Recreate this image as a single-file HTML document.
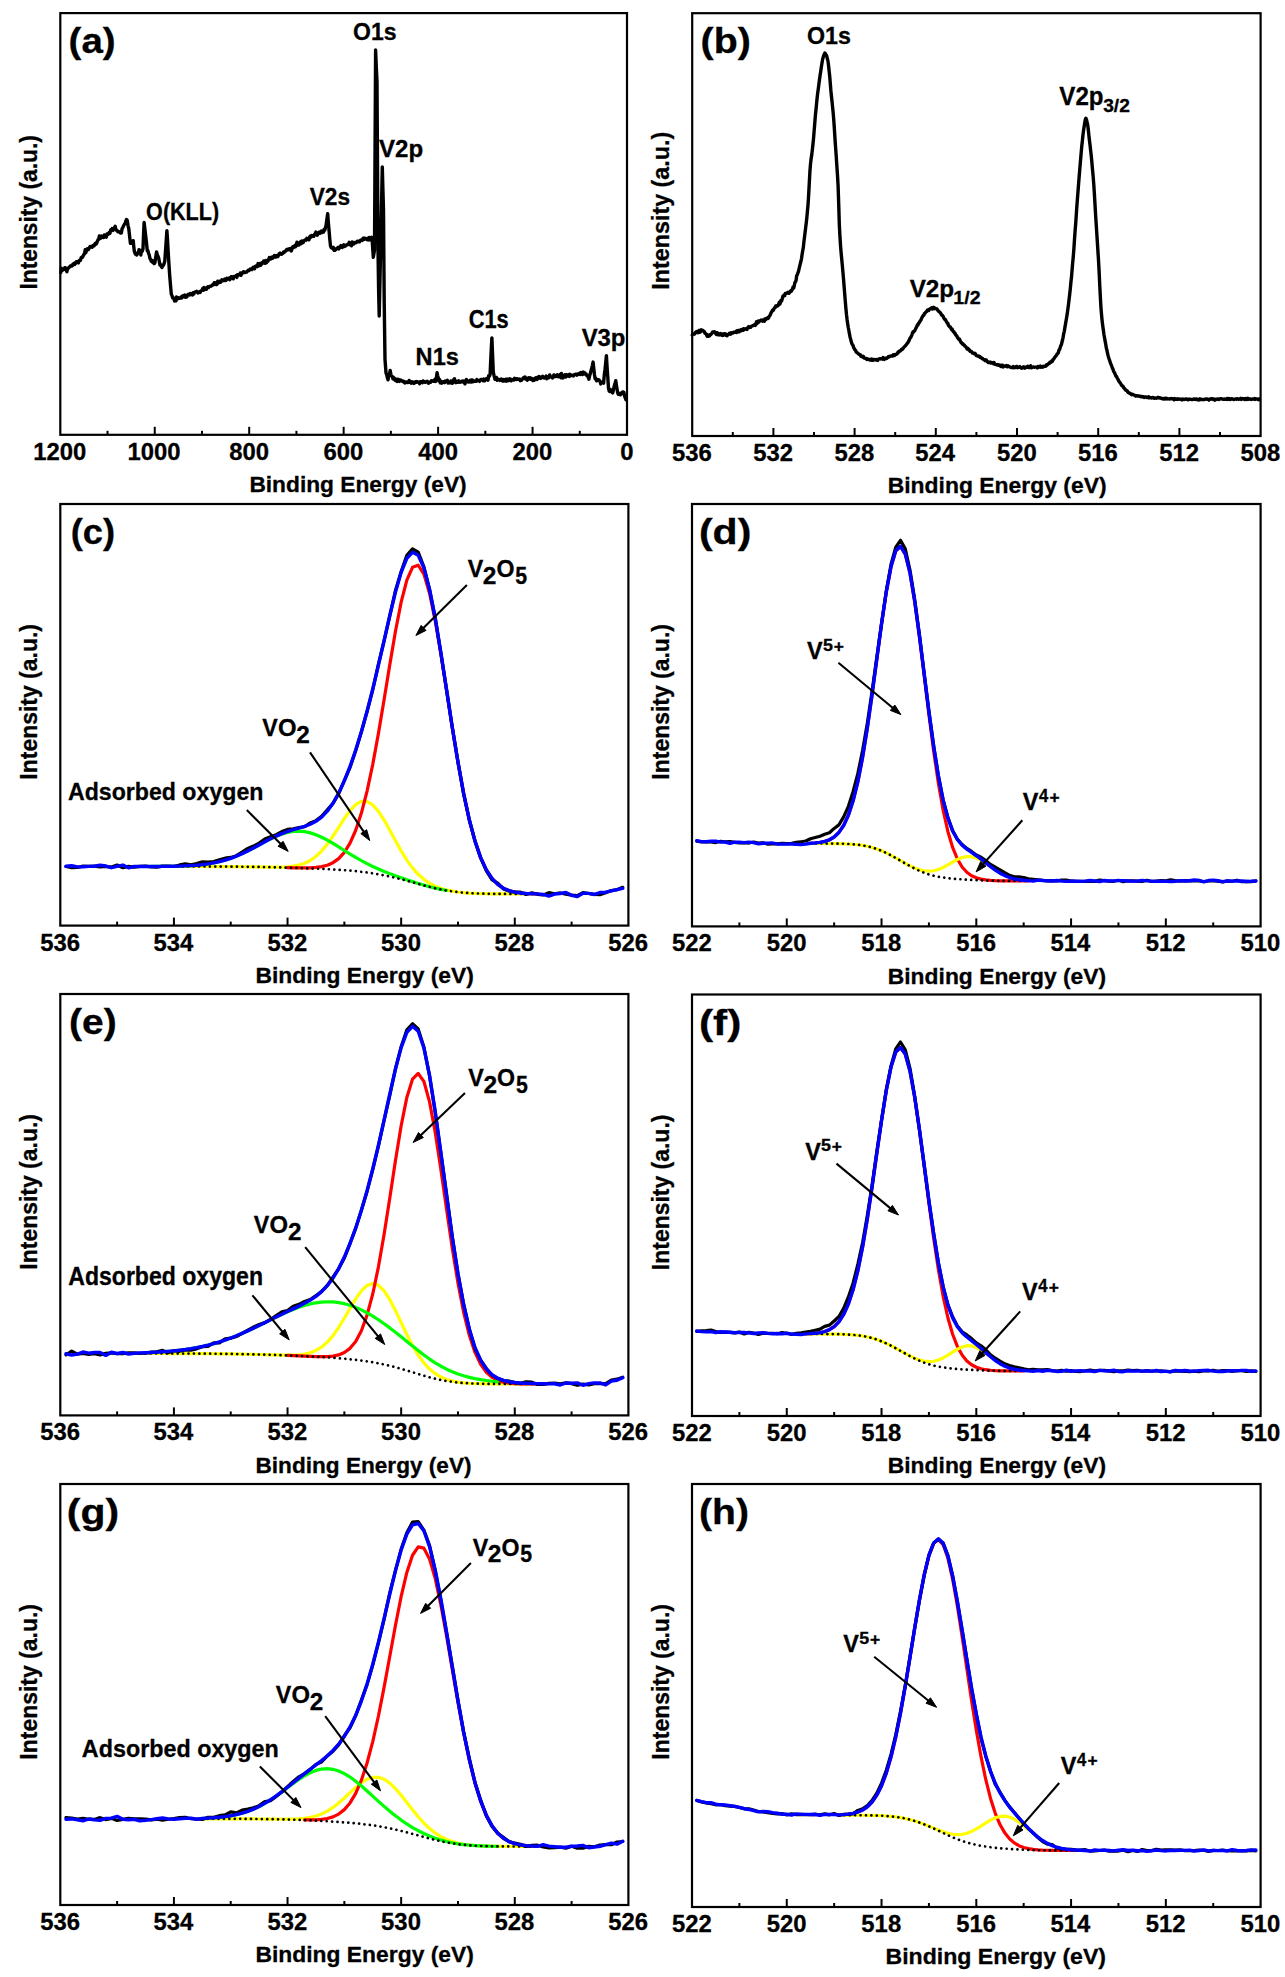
<!DOCTYPE html>
<html><head><meta charset="utf-8"><style>
html,body{margin:0;padding:0;background:#fff;overflow:hidden;}
svg{display:block;}
text{font-kerning:none;}
</style></head><body>
<svg width="1285" height="1977" viewBox="0 0 1285 1977">
<rect width="1285" height="1977" fill="#fff"/>
<rect x="60.3" y="13.1" width="566.70" height="421.70" fill="none" stroke="#000" stroke-width="2.2"/>
<line x1="107.53" y1="434.80" x2="107.53" y2="430.80" stroke="#000" stroke-width="2"/>
<line x1="154.75" y1="434.80" x2="154.75" y2="426.80" stroke="#000" stroke-width="2"/>
<line x1="201.98" y1="434.80" x2="201.98" y2="430.80" stroke="#000" stroke-width="2"/>
<line x1="249.20" y1="434.80" x2="249.20" y2="426.80" stroke="#000" stroke-width="2"/>
<line x1="296.43" y1="434.80" x2="296.43" y2="430.80" stroke="#000" stroke-width="2"/>
<line x1="343.65" y1="434.80" x2="343.65" y2="426.80" stroke="#000" stroke-width="2"/>
<line x1="390.88" y1="434.80" x2="390.88" y2="430.80" stroke="#000" stroke-width="2"/>
<line x1="438.10" y1="434.80" x2="438.10" y2="426.80" stroke="#000" stroke-width="2"/>
<line x1="485.33" y1="434.80" x2="485.33" y2="430.80" stroke="#000" stroke-width="2"/>
<line x1="532.55" y1="434.80" x2="532.55" y2="426.80" stroke="#000" stroke-width="2"/>
<line x1="579.77" y1="434.80" x2="579.77" y2="430.80" stroke="#000" stroke-width="2"/>
<text transform="translate(33.14,459.80) scale(1.0000,1)" font-size="23.85" font-family="Liberation Sans, sans-serif" font-weight="bold" stroke="#000" stroke-width="0.3" fill="#000">1200</text>
<text transform="translate(127.59,459.80) scale(1.0000,1)" font-size="23.85" font-family="Liberation Sans, sans-serif" font-weight="bold" stroke="#000" stroke-width="0.3" fill="#000">1000</text>
<text transform="translate(229.13,459.80) scale(1.0000,1)" font-size="23.85" font-family="Liberation Sans, sans-serif" font-weight="bold" stroke="#000" stroke-width="0.3" fill="#000">800</text>
<text transform="translate(323.53,459.80) scale(1.0000,1)" font-size="23.85" font-family="Liberation Sans, sans-serif" font-weight="bold" stroke="#000" stroke-width="0.3" fill="#000">600</text>
<text transform="translate(418.23,459.80) scale(1.0000,1)" font-size="23.85" font-family="Liberation Sans, sans-serif" font-weight="bold" stroke="#000" stroke-width="0.3" fill="#000">400</text>
<text transform="translate(512.45,459.80) scale(1.0000,1)" font-size="23.85" font-family="Liberation Sans, sans-serif" font-weight="bold" stroke="#000" stroke-width="0.3" fill="#000">200</text>
<text transform="translate(620.30,459.80) scale(1.0000,1)" font-size="23.85" font-family="Liberation Sans, sans-serif" font-weight="bold" stroke="#000" stroke-width="0.3" fill="#000">0</text>
<text transform="translate(249.38,492.00) scale(1.0101,1)" font-size="22.53" font-family="Liberation Sans, sans-serif" font-weight="bold" stroke="#000" stroke-width="0.3" fill="#000">Binding Energy (eV)</text>
<text transform="translate(36.70,289.52) rotate(-90) scale(0.9277,1)" font-size="24.56" font-family="Liberation Sans, sans-serif" font-weight="bold" stroke="#000" stroke-width="0.3">Intensity (a.u.)</text>
<text transform="translate(68.58,53.35) scale(1.0870,1)" font-size="35.40" font-family="Liberation Sans, sans-serif" font-weight="bold" stroke="#000" stroke-width="0.3" fill="#000">(a)</text>
<path d="M60.70,272.64 L61.38,268.27 L62.07,270.73 L62.75,269.61 L63.43,269.49 L64.12,269.48 L64.80,267.63 L65.48,269.02 L66.17,268.22 L66.85,271.77 L67.53,268.75 L68.22,268.01 L68.90,267.85 L69.58,266.89 L70.25,265.93 L70.92,265.91 L71.60,266.08 L72.28,264.82 L72.95,265.29 L73.62,263.63 L74.30,263.22 L74.99,264.25 L75.67,263.02 L76.36,261.73 L77.05,261.69 L77.74,262.00 L78.42,262.92 L79.11,260.59 L79.80,260.28 L80.47,260.38 L81.15,257.65 L81.83,257.16 L82.50,257.19 L83.17,255.90 L83.85,254.43 L84.53,253.93 L85.20,249.75 L85.89,252.53 L86.58,250.06 L87.26,248.74 L87.95,249.80 L88.64,249.49 L89.33,247.77 L90.01,246.52 L90.70,246.82 L91.38,246.35 L92.05,247.27 L92.72,246.27 L93.40,245.37 L94.08,245.80 L94.75,244.22 L95.42,243.17 L96.10,244.13 L96.76,243.02 L97.42,241.21 L98.08,239.60 L98.74,239.41 L99.40,235.86 L100.09,238.52 L100.78,238.14 L101.47,236.03 L102.16,237.36 L102.85,236.23 L103.55,237.58 L104.24,234.87 L104.93,235.68 L105.62,236.94 L106.31,237.14 L107.00,233.96 L107.73,234.47 L108.47,234.23 L109.20,232.40 L109.93,233.40 L110.67,229.91 L111.40,230.32 L112.16,228.62 L112.92,230.39 L113.68,228.66 L114.44,227.90 L115.20,226.25 L115.88,230.06 L116.55,229.98 L117.22,230.73 L117.90,231.82 L118.58,231.86 L119.25,231.72 L119.92,232.33 L120.60,233.08 L121.36,233.07 L122.12,228.57 L122.88,227.38 L123.64,225.67 L124.40,224.20 L125.10,223.57 L125.80,220.98 L126.50,219.59 L127.20,220.20 L128.00,225.34 L128.80,228.98 L129.60,236.14 L130.40,243.31 L131.10,243.31 L131.80,242.28 L132.50,242.69 L133.20,240.68 L133.75,246.42 L134.30,251.10 L135.30,253.89 L136.03,253.24 L136.77,254.96 L137.50,253.65 L138.23,253.28 L138.97,249.73 L139.70,250.89 L140.25,252.30 L140.80,254.98 L141.53,250.25 L142.27,251.16 L143.00,248.86 L143.55,234.48 L144.10,222.52 L144.90,228.93 L145.70,235.94 L146.50,243.03 L147.30,250.84 L147.96,250.78 L148.62,253.61 L149.28,255.02 L149.94,258.42 L150.60,259.47 L151.33,261.30 L152.07,260.36 L152.80,262.43 L153.50,261.70 L154.20,263.62 L154.90,262.69 L155.75,256.93 L156.60,251.89 L157.28,254.91 L157.95,256.02 L158.62,257.99 L159.30,261.43 L159.98,265.12 L160.65,264.58 L161.32,266.20 L162.00,267.55 L162.70,265.50 L163.40,265.27 L164.10,263.67 L164.80,261.01 L165.50,251.13 L166.20,240.77 L166.90,230.62 L167.45,238.38 L168.00,248.59 L168.85,262.75 L169.70,275.60 L170.50,285.12 L171.30,294.06 L171.96,295.58 L172.62,297.73 L173.28,297.67 L173.94,298.98 L174.60,300.93 L175.24,300.34 L175.88,300.85 L176.52,297.00 L177.16,299.21 L177.80,297.57 L178.49,297.86 L179.18,298.23 L179.86,298.19 L180.55,297.89 L181.24,296.83 L181.93,297.87 L182.61,295.91 L183.30,295.77 L184.00,296.43 L184.70,295.03 L185.40,297.29 L186.10,296.07 L186.80,296.93 L187.50,294.76 L188.20,294.26 L188.90,294.56 L189.60,294.89 L190.30,293.51 L191.00,294.20 L191.70,293.66 L192.40,294.94 L193.10,292.70 L193.80,294.06 L194.50,292.35 L195.20,291.88 L195.90,291.92 L196.60,291.30 L197.30,292.32 L198.00,292.93 L198.70,291.83 L199.41,291.92 L200.11,292.51 L200.81,290.96 L201.52,290.57 L202.22,289.83 L202.92,288.31 L203.63,290.12 L204.33,287.53 L205.03,289.38 L205.74,288.46 L206.44,289.17 L207.14,287.77 L207.85,286.77 L208.55,287.51 L209.26,286.36 L209.96,286.39 L210.66,286.27 L211.37,285.79 L212.07,285.42 L212.77,284.52 L213.48,284.77 L214.18,282.70 L214.88,284.16 L215.59,282.90 L216.29,284.67 L216.99,284.48 L217.70,281.26 L218.40,282.83 L219.11,282.30 L219.82,281.19 L220.53,282.33 L221.24,281.16 L221.95,279.70 L222.65,280.77 L223.36,280.59 L224.07,280.54 L224.78,279.06 L225.49,280.44 L226.20,280.26 L226.91,278.29 L227.62,278.44 L228.33,278.68 L229.04,277.96 L229.75,279.76 L230.45,278.10 L231.16,276.72 L231.87,276.64 L232.58,277.01 L233.29,278.85 L234.00,276.34 L234.71,276.33 L235.42,276.40 L236.13,275.62 L236.84,277.43 L237.55,274.61 L238.25,275.48 L238.96,274.67 L239.67,274.80 L240.38,272.90 L241.09,275.27 L241.80,273.29 L242.51,273.08 L243.21,271.85 L243.92,271.68 L244.62,272.49 L245.33,272.52 L246.04,271.95 L246.74,272.01 L247.45,271.21 L248.15,270.23 L248.86,270.61 L249.57,270.03 L250.27,269.05 L250.98,269.44 L251.68,269.59 L252.39,268.29 L253.10,267.41 L253.80,268.02 L254.51,268.73 L255.22,266.47 L255.92,266.23 L256.63,265.83 L257.33,266.70 L258.04,263.59 L258.75,265.22 L259.45,265.61 L260.16,263.45 L260.86,265.17 L261.57,263.95 L262.28,262.62 L262.98,262.95 L263.69,261.03 L264.39,261.55 L265.10,263.34 L265.81,260.54 L266.52,262.65 L267.23,260.56 L267.94,261.18 L268.65,259.97 L269.35,257.56 L270.06,258.70 L270.77,259.03 L271.48,257.47 L272.19,256.94 L272.90,258.13 L273.61,256.86 L274.32,255.56 L275.03,256.12 L275.74,257.16 L276.45,255.60 L277.15,256.51 L277.86,256.69 L278.57,254.99 L279.28,253.59 L279.99,253.08 L280.70,253.88 L281.41,254.34 L282.12,253.43 L282.83,253.33 L283.54,252.08 L284.25,252.40 L284.95,251.35 L285.66,251.13 L286.37,249.90 L287.08,249.29 L287.79,249.92 L288.50,249.00 L289.21,248.71 L289.91,249.76 L290.62,248.63 L291.32,250.93 L292.03,248.71 L292.74,246.88 L293.44,247.73 L294.15,246.93 L294.85,245.56 L295.56,246.75 L296.27,244.64 L296.97,242.16 L297.68,245.20 L298.38,243.51 L299.09,244.97 L299.80,242.63 L300.50,241.72 L301.21,243.76 L301.92,240.97 L302.62,241.70 L303.33,242.40 L304.03,240.77 L304.74,240.17 L305.45,239.91 L306.15,240.15 L306.86,238.24 L307.56,239.10 L308.27,238.64 L308.98,239.80 L309.68,236.97 L310.39,236.03 L311.09,237.09 L311.80,235.64 L312.49,235.99 L313.18,235.58 L313.86,236.24 L314.55,234.33 L315.24,234.56 L315.93,232.08 L316.62,233.30 L317.31,235.22 L317.99,232.95 L318.68,232.66 L319.37,231.93 L320.06,233.27 L320.75,232.64 L321.44,231.14 L322.12,232.54 L322.81,231.90 L323.50,232.08 L324.12,229.47 L324.75,230.26 L325.38,227.72 L326.00,225.89 L326.85,219.48 L327.70,213.68 L328.35,222.72 L329.00,229.76 L329.75,238.67 L330.50,245.92 L331.20,247.53 L331.90,247.97 L332.60,248.10 L333.30,247.36 L334.00,250.27 L334.69,250.39 L335.38,249.51 L336.07,249.55 L336.76,248.30 L337.45,248.07 L338.15,247.24 L338.84,249.00 L339.53,247.60 L340.22,246.69 L340.91,245.62 L341.60,246.36 L342.29,247.48 L342.98,246.28 L343.67,244.89 L344.36,246.51 L345.05,246.19 L345.75,245.47 L346.44,244.98 L347.13,244.99 L347.82,244.13 L348.51,244.02 L349.20,242.30 L349.97,244.68 L350.73,243.87 L351.50,245.82 L352.22,241.86 L352.94,244.03 L353.66,243.98 L354.38,242.49 L355.09,242.91 L355.81,242.87 L356.53,242.42 L357.25,241.11 L357.97,241.17 L358.69,241.92 L359.41,241.85 L360.12,240.49 L360.84,240.17 L361.56,239.98 L362.28,240.43 L363.00,238.25 L363.71,238.00 L364.42,239.31 L365.13,238.20 L365.84,238.67 L366.55,239.28 L367.25,239.63 L367.96,238.24 L368.67,239.92 L369.38,237.60 L370.09,239.69 L370.80,237.78 L371.40,237.20 L372.00,238.08 L372.65,247.38 L373.30,257.28 L373.90,253.60 L374.50,250.42 L375.05,149.95 L375.60,49.97 L376.30,66.95 L377.00,81.36 L378.00,249.58 L378.60,289.53 L379.20,316.05 L379.90,283.39 L380.60,251.16 L381.45,208.47 L382.30,166.86 L382.90,189.27 L383.50,209.65 L384.20,300.75 L384.80,345.65 L385.00,359.37 L386.00,372.93 L386.67,374.39 L387.33,377.56 L388.00,379.83 L388.73,375.74 L389.47,374.18 L390.20,370.45 L390.87,374.36 L391.53,375.83 L392.20,376.53 L392.90,378.83 L393.60,377.34 L394.30,379.18 L395.00,380.12 L395.71,379.02 L396.43,381.06 L397.14,381.38 L397.86,379.32 L398.57,379.45 L399.29,381.40 L400.00,380.97 L400.70,379.95 L401.41,380.82 L402.11,381.03 L402.82,381.04 L403.52,381.95 L404.23,381.60 L404.93,382.88 L405.63,382.57 L406.34,381.99 L407.04,382.39 L407.75,382.65 L408.45,382.14 L409.15,380.44 L409.86,382.36 L410.56,381.69 L411.27,383.12 L411.97,381.79 L412.67,382.22 L413.38,382.09 L414.08,383.35 L414.79,382.03 L415.49,381.67 L416.20,382.24 L416.90,381.60 L417.59,382.15 L418.28,381.99 L418.97,382.24 L419.66,383.73 L420.35,381.63 L421.04,382.03 L421.73,381.82 L422.42,382.61 L423.11,380.94 L423.79,381.38 L424.48,381.96 L425.17,382.49 L425.86,381.96 L426.55,381.55 L427.24,381.22 L427.93,382.46 L428.62,383.30 L429.31,382.29 L430.00,382.17 L430.69,382.21 L431.38,380.78 L432.06,381.16 L432.75,381.01 L433.44,381.33 L434.12,380.85 L434.81,379.59 L435.50,381.51 L436.30,378.27 L437.10,372.76 L437.73,375.86 L438.37,378.24 L439.00,381.21 L439.67,379.67 L440.33,382.95 L441.00,381.58 L441.71,383.12 L442.41,382.04 L443.12,381.61 L443.82,381.81 L444.53,382.73 L445.24,381.13 L445.94,381.56 L446.65,381.45 L447.35,380.32 L448.06,383.02 L448.76,382.36 L449.47,381.80 L450.18,382.86 L450.88,380.93 L451.59,381.71 L452.29,383.32 L453.00,382.63 L453.71,379.73 L454.41,378.72 L455.12,380.77 L455.82,382.65 L456.53,381.25 L457.24,381.47 L457.94,382.19 L458.65,380.84 L459.35,381.81 L460.06,382.32 L460.76,382.01 L461.47,381.93 L462.18,381.02 L462.88,382.01 L463.59,381.14 L464.29,382.69 L465.00,383.81 L465.70,380.77 L466.39,379.42 L467.09,380.94 L467.79,381.60 L468.48,382.14 L469.18,382.11 L469.88,380.37 L470.58,380.30 L471.27,382.10 L471.97,379.91 L472.67,381.81 L473.36,380.57 L474.06,381.40 L474.76,381.29 L475.45,381.29 L476.15,381.27 L476.85,379.58 L477.55,380.68 L478.24,380.36 L478.94,380.57 L479.64,381.34 L480.33,379.92 L481.03,379.47 L481.73,379.39 L482.42,379.71 L483.12,380.60 L483.82,379.13 L484.52,380.85 L485.21,380.00 L485.91,379.48 L486.61,378.42 L487.30,379.78 L488.00,380.12 L488.70,375.68 L489.40,376.11 L490.10,374.28 L490.70,360.74 L491.30,348.51 L491.90,337.87 L492.60,355.36 L493.30,371.99 L494.15,376.14 L495.00,379.36 L495.70,379.39 L496.40,377.42 L497.10,380.26 L497.80,379.03 L498.50,379.77 L499.20,379.53 L499.90,380.46 L500.60,379.43 L501.30,379.01 L502.00,380.23 L502.70,381.04 L503.40,379.51 L504.10,381.06 L504.80,380.09 L505.50,379.40 L506.20,381.27 L506.90,379.19 L507.60,380.86 L508.30,379.53 L509.00,380.41 L509.70,378.84 L510.40,379.15 L511.10,380.81 L511.80,379.97 L512.50,379.78 L513.20,379.30 L513.90,380.05 L514.60,378.34 L515.30,378.54 L516.00,379.36 L516.70,378.70 L517.40,378.77 L518.10,379.29 L518.80,379.18 L519.50,379.05 L520.20,380.70 L520.90,380.06 L521.60,380.21 L522.30,379.02 L523.00,378.55 L523.70,377.64 L524.40,378.59 L525.10,376.97 L525.80,378.27 L526.50,379.44 L527.20,380.16 L527.90,379.52 L528.60,377.82 L529.30,378.99 L530.00,377.79 L530.70,379.18 L531.41,378.29 L532.11,379.10 L532.81,380.59 L533.51,379.04 L534.22,380.26 L534.92,378.26 L535.62,377.75 L536.33,379.19 L537.03,379.48 L537.73,377.37 L538.43,377.88 L539.14,376.47 L539.84,377.52 L540.54,378.44 L541.25,377.51 L541.95,377.02 L542.65,376.20 L543.35,377.75 L544.06,378.07 L544.76,377.84 L545.46,377.47 L546.17,376.04 L546.87,378.71 L547.57,377.02 L548.27,376.88 L548.98,377.62 L549.68,374.95 L550.38,376.78 L551.09,376.66 L551.79,377.06 L552.49,377.88 L553.19,377.04 L553.90,374.91 L554.60,376.19 L555.30,376.64 L555.99,376.55 L556.69,375.23 L557.38,374.84 L558.08,376.79 L558.78,376.57 L559.47,376.20 L560.17,374.63 L560.86,377.74 L561.56,373.49 L562.26,375.73 L562.95,377.90 L563.65,375.84 L564.34,376.15 L565.04,374.84 L565.74,377.08 L566.43,374.66 L567.13,376.01 L567.82,375.86 L568.52,374.75 L569.22,376.46 L569.91,374.35 L570.61,374.96 L571.30,375.51 L572.00,375.13 L572.71,375.76 L573.41,376.02 L574.12,374.77 L574.83,374.39 L575.53,374.25 L576.24,374.23 L576.94,375.13 L577.65,374.05 L578.36,374.46 L579.06,373.86 L579.77,373.02 L580.47,374.40 L581.18,372.53 L581.89,373.32 L582.59,374.49 L583.30,372.02 L584.00,373.54 L584.70,372.75 L585.40,374.30 L586.10,374.00 L586.80,375.61 L587.50,376.04 L588.20,377.23 L588.90,379.13 L589.60,375.62 L590.30,373.63 L591.00,370.65 L591.70,368.15 L592.40,365.28 L593.10,362.08 L593.80,368.66 L594.50,374.97 L595.20,378.83 L595.90,378.42 L596.60,380.88 L597.30,379.51 L598.00,379.84 L598.70,379.81 L599.40,380.53 L600.10,381.68 L600.80,383.98 L601.50,382.27 L602.20,381.81 L602.90,382.48 L603.60,383.10 L604.30,374.76 L605.00,369.41 L605.70,362.93 L606.40,355.59 L607.10,367.27 L607.80,377.01 L608.50,388.07 L609.20,391.22 L609.90,391.52 L610.60,389.61 L611.30,391.65 L612.00,391.96 L612.70,392.89 L613.48,389.61 L614.25,386.00 L615.02,383.65 L615.80,380.64 L616.40,385.39 L617.00,388.70 L617.60,392.60 L618.30,394.29 L619.00,393.23 L619.70,394.63 L620.40,394.74 L621.10,394.04 L621.80,392.53 L622.50,392.00 L623.20,392.05 L623.90,392.47 L624.60,396.08 L625.30,398.01 L626.00,399.74" fill="none" stroke="#000" stroke-width="3.4" stroke-linejoin="round" stroke-linecap="round" />
<text transform="translate(353.06,40.30) scale(0.9479,1)" font-size="24.27" font-family="Liberation Sans, sans-serif" font-weight="bold" stroke="#000" stroke-width="0.3" fill="#000">O1s</text>
<text transform="translate(378.94,157.20) scale(0.9978,1)" font-size="24.13" font-family="Liberation Sans, sans-serif" font-weight="bold" stroke="#000" stroke-width="0.3" fill="#000">V2p</text>
<text transform="translate(146.12,219.90) scale(0.8832,1)" font-size="24.42" font-family="Liberation Sans, sans-serif" font-weight="bold" stroke="#000" stroke-width="0.3" fill="#000">O(KLL)</text>
<text transform="translate(309.64,204.50) scale(0.9407,1)" font-size="24.13" font-family="Liberation Sans, sans-serif" font-weight="bold" stroke="#000" stroke-width="0.3" fill="#000">V2s</text>
<text transform="translate(415.62,365.00) scale(0.9770,1)" font-size="24.13" font-family="Liberation Sans, sans-serif" font-weight="bold" stroke="#000" stroke-width="0.3" fill="#000">N1s</text>
<text transform="translate(468.70,327.90) scale(0.8793,1)" font-size="24.85" font-family="Liberation Sans, sans-serif" font-weight="bold" stroke="#000" stroke-width="0.3" fill="#000">C1s</text>
<text transform="translate(581.64,345.60) scale(0.9908,1)" font-size="24.13" font-family="Liberation Sans, sans-serif" font-weight="bold" stroke="#000" stroke-width="0.3" fill="#000">V3p</text>
<rect x="692.2" y="13.2" width="568.40" height="422.80" fill="none" stroke="#000" stroke-width="2.2"/>
<line x1="732.80" y1="436.00" x2="732.80" y2="432.00" stroke="#000" stroke-width="2"/>
<line x1="773.40" y1="436.00" x2="773.40" y2="428.00" stroke="#000" stroke-width="2"/>
<line x1="814.00" y1="436.00" x2="814.00" y2="432.00" stroke="#000" stroke-width="2"/>
<line x1="854.60" y1="436.00" x2="854.60" y2="428.00" stroke="#000" stroke-width="2"/>
<line x1="895.20" y1="436.00" x2="895.20" y2="432.00" stroke="#000" stroke-width="2"/>
<line x1="935.80" y1="436.00" x2="935.80" y2="428.00" stroke="#000" stroke-width="2"/>
<line x1="976.40" y1="436.00" x2="976.40" y2="432.00" stroke="#000" stroke-width="2"/>
<line x1="1017.00" y1="436.00" x2="1017.00" y2="428.00" stroke="#000" stroke-width="2"/>
<line x1="1057.60" y1="436.00" x2="1057.60" y2="432.00" stroke="#000" stroke-width="2"/>
<line x1="1098.20" y1="436.00" x2="1098.20" y2="428.00" stroke="#000" stroke-width="2"/>
<line x1="1138.80" y1="436.00" x2="1138.80" y2="432.00" stroke="#000" stroke-width="2"/>
<line x1="1179.40" y1="436.00" x2="1179.40" y2="428.00" stroke="#000" stroke-width="2"/>
<line x1="1220.00" y1="436.00" x2="1220.00" y2="432.00" stroke="#000" stroke-width="2"/>
<text transform="translate(672.09,461.00) scale(1.0000,1)" font-size="23.85" font-family="Liberation Sans, sans-serif" font-weight="bold" stroke="#000" stroke-width="0.3" fill="#000">536</text>
<text transform="translate(753.33,461.00) scale(1.0000,1)" font-size="23.85" font-family="Liberation Sans, sans-serif" font-weight="bold" stroke="#000" stroke-width="0.3" fill="#000">532</text>
<text transform="translate(834.42,461.00) scale(1.0000,1)" font-size="23.85" font-family="Liberation Sans, sans-serif" font-weight="bold" stroke="#000" stroke-width="0.3" fill="#000">528</text>
<text transform="translate(915.32,461.00) scale(1.0000,1)" font-size="23.85" font-family="Liberation Sans, sans-serif" font-weight="bold" stroke="#000" stroke-width="0.3" fill="#000">524</text>
<text transform="translate(996.95,461.00) scale(1.0000,1)" font-size="23.85" font-family="Liberation Sans, sans-serif" font-weight="bold" stroke="#000" stroke-width="0.3" fill="#000">520</text>
<text transform="translate(1078.09,461.00) scale(1.0000,1)" font-size="23.85" font-family="Liberation Sans, sans-serif" font-weight="bold" stroke="#000" stroke-width="0.3" fill="#000">516</text>
<text transform="translate(1159.33,461.00) scale(1.0000,1)" font-size="23.85" font-family="Liberation Sans, sans-serif" font-weight="bold" stroke="#000" stroke-width="0.3" fill="#000">512</text>
<text transform="translate(1240.42,461.00) scale(1.0000,1)" font-size="23.85" font-family="Liberation Sans, sans-serif" font-weight="bold" stroke="#000" stroke-width="0.3" fill="#000">508</text>
<text transform="translate(887.67,493.20) scale(1.0176,1)" font-size="22.53" font-family="Liberation Sans, sans-serif" font-weight="bold" stroke="#000" stroke-width="0.3" fill="#000">Binding Energy (eV)</text>
<text transform="translate(669.00,289.66) rotate(-90) scale(0.9604,1)" font-size="24.27" font-family="Liberation Sans, sans-serif" font-weight="bold" stroke="#000" stroke-width="0.3">Intensity (a.u.)</text>
<text transform="translate(700.54,53.45) scale(1.1109,1)" font-size="35.40" font-family="Liberation Sans, sans-serif" font-weight="bold" stroke="#000" stroke-width="0.3" fill="#000">(b)</text>
<path d="M692.30,335.04 L692.90,333.95 L693.50,334.06 L694.10,333.96 L694.70,333.96 L695.30,332.81 L695.90,331.98 L696.50,331.50 L697.10,332.31 L697.70,332.72 L698.30,331.59 L698.90,330.40 L699.50,330.50 L700.10,332.21 L700.70,331.19 L701.30,329.80 L701.90,330.94 L702.50,330.19 L703.10,330.70 L703.70,331.19 L704.30,331.60 L704.90,333.19 L705.50,333.53 L706.10,333.93 L706.70,335.36 L707.30,336.28 L707.90,335.00 L708.50,336.20 L709.10,335.63 L709.70,335.81 L710.30,334.41 L710.90,334.59 L711.50,333.80 L712.10,332.94 L712.70,331.95 L713.30,332.22 L713.90,331.80 L714.50,331.78 L715.10,333.13 L715.70,332.50 L716.30,334.43 L716.90,334.46 L717.50,332.88 L718.10,334.75 L718.70,334.00 L719.30,334.91 L719.90,334.93 L720.50,333.49 L721.10,334.70 L721.70,334.65 L722.30,335.45 L722.90,333.89 L723.50,335.17 L724.10,333.81 L724.70,334.26 L725.30,333.81 L725.90,335.31 L726.50,334.58 L727.10,335.77 L727.70,334.40 L728.30,334.41 L728.90,334.28 L729.50,333.13 L730.10,333.37 L730.70,334.22 L731.30,332.85 L731.90,333.11 L732.50,332.82 L733.10,333.11 L733.70,332.28 L734.30,332.28 L734.90,332.41 L735.50,332.16 L736.10,331.34 L736.70,332.43 L737.30,330.74 L737.90,330.66 L738.50,330.44 L739.10,331.84 L739.70,330.73 L740.30,330.12 L740.90,329.82 L741.50,330.71 L742.10,329.48 L742.70,329.13 L743.30,330.24 L743.90,328.77 L744.50,329.17 L745.10,329.19 L745.70,328.68 L746.30,328.74 L746.90,329.51 L747.50,328.00 L748.10,327.26 L748.70,326.63 L749.30,327.53 L749.90,327.18 L750.50,327.36 L751.10,326.57 L751.70,326.27 L752.30,325.80 L752.90,325.58 L753.50,325.63 L754.10,324.77 L754.70,324.60 L755.30,325.33 L755.90,323.80 L756.50,321.85 L757.10,323.69 L757.70,322.30 L758.30,321.04 L758.90,322.05 L759.50,321.19 L760.10,320.54 L760.70,320.35 L761.30,319.94 L761.90,320.52 L762.50,321.10 L763.10,319.99 L763.70,320.37 L764.30,321.24 L764.90,318.91 L765.50,319.75 L766.10,319.13 L766.70,318.34 L767.30,318.07 L767.90,318.42 L768.50,318.10 L769.10,316.47 L769.70,315.69 L770.30,314.84 L770.90,313.19 L771.50,312.31 L772.10,310.92 L772.70,310.08 L773.30,310.29 L773.90,308.79 L774.50,307.85 L775.10,307.69 L775.70,306.02 L776.30,305.92 L776.90,306.20 L777.50,305.57 L778.10,305.67 L778.70,304.01 L779.30,302.36 L779.90,304.06 L780.50,302.69 L781.10,300.22 L781.70,300.80 L782.30,298.65 L782.90,296.14 L783.50,295.98 L784.10,294.95 L784.70,295.69 L785.30,293.55 L785.90,293.57 L786.50,293.26 L787.10,292.95 L787.70,292.36 L788.30,292.96 L788.90,293.34 L789.50,292.78 L790.10,291.40 L790.70,290.87 L791.30,291.30 L791.90,290.00 L792.50,289.04 L793.10,287.03 L793.70,288.07 L794.30,285.66 L794.90,282.52 L795.50,281.90 L796.10,280.21 L796.70,275.57 L797.30,274.85 L797.90,272.93 L798.50,271.51 L799.10,268.69 L799.70,266.18 L800.30,263.71 L800.90,261.49 L801.50,258.57 L802.10,254.54 L802.70,250.75 L803.30,247.61 L803.90,241.87 L804.50,237.09 L805.10,232.25 L805.70,227.39 L806.30,222.50 L806.90,216.91 L807.50,210.48 L808.10,203.86 L808.70,193.89 L809.30,182.80 L809.90,171.70 L810.50,164.11 L811.10,158.88 L811.70,155.14 L812.30,150.16 L812.90,144.70 L813.50,138.82 L814.10,131.46 L814.70,124.09 L815.30,116.49 L815.90,110.51 L816.50,104.37 L817.10,98.15 L817.70,93.04 L818.30,88.73 L818.90,84.10 L819.50,79.47 L820.10,75.18 L820.70,71.48 L821.30,67.24 L821.90,63.49 L822.50,59.93 L823.10,57.63 L823.70,55.33 L824.30,54.41 L824.90,52.95 L825.50,53.93 L826.10,55.03 L826.70,55.95 L827.30,58.58 L827.90,60.61 L828.50,65.15 L829.10,70.74 L829.70,76.16 L830.30,83.41 L830.90,90.88 L831.50,96.71 L832.10,102.15 L832.70,108.05 L833.30,114.19 L833.90,121.83 L834.50,130.85 L835.10,140.28 L835.70,148.94 L836.30,157.46 L836.90,166.56 L837.50,175.36 L838.10,185.95 L838.70,203.81 L839.30,224.05 L839.90,235.60 L840.50,245.13 L841.10,252.61 L841.70,259.00 L842.30,265.06 L842.90,271.96 L843.50,278.81 L844.10,286.26 L844.70,293.84 L845.30,301.41 L845.90,308.31 L846.50,314.63 L847.10,319.66 L847.70,323.89 L848.30,327.56 L848.90,330.77 L849.50,334.09 L850.10,337.15 L850.70,339.44 L851.30,341.84 L851.90,343.75 L852.50,344.61 L853.10,345.66 L853.70,347.79 L854.30,348.57 L854.90,349.81 L855.50,350.13 L856.10,351.89 L856.70,352.33 L857.30,352.73 L857.90,353.23 L858.50,353.86 L859.10,354.26 L859.70,354.70 L860.30,354.75 L860.90,356.27 L861.50,356.12 L862.10,356.59 L862.70,357.00 L863.30,356.28 L863.90,357.93 L864.50,357.89 L865.10,358.22 L865.70,358.67 L866.30,358.46 L866.90,359.50 L867.50,359.01 L868.10,359.08 L868.70,359.24 L869.30,359.79 L869.90,360.12 L870.50,359.53 L871.10,359.12 L871.70,360.27 L872.30,359.30 L872.90,360.30 L873.50,359.71 L874.10,359.40 L874.70,359.40 L875.30,359.86 L875.90,360.02 L876.50,359.49 L877.10,359.96 L877.70,360.43 L878.30,359.35 L878.90,358.88 L879.50,358.87 L880.10,358.67 L880.70,358.94 L881.30,358.82 L881.90,358.44 L882.50,359.16 L883.10,357.61 L883.70,358.05 L884.30,359.39 L884.90,358.79 L885.50,358.38 L886.10,358.16 L886.70,358.56 L887.30,357.81 L887.90,357.41 L888.50,356.62 L889.10,356.93 L889.70,356.43 L890.30,356.23 L890.90,356.00 L891.50,356.07 L892.10,355.69 L892.70,355.98 L893.30,354.72 L893.90,354.96 L894.50,355.57 L895.10,354.45 L895.70,354.65 L896.30,354.29 L896.90,354.02 L897.50,353.40 L898.10,352.07 L898.70,352.18 L899.30,351.71 L899.90,350.74 L900.50,350.74 L901.10,349.87 L901.70,349.14 L902.30,349.40 L902.90,348.68 L903.50,347.76 L904.10,346.98 L904.70,346.47 L905.30,345.82 L905.90,345.08 L906.50,344.48 L907.10,343.48 L907.70,342.93 L908.30,341.98 L908.90,340.85 L909.50,339.28 L910.10,338.16 L910.70,337.49 L911.30,336.06 L911.90,335.01 L912.50,332.83 L913.10,331.69 L913.70,332.02 L914.30,330.98 L914.90,330.42 L915.50,329.09 L916.10,327.83 L916.70,326.71 L917.30,325.04 L917.90,325.07 L918.50,323.39 L919.10,322.90 L919.70,321.78 L920.30,320.84 L920.90,320.15 L921.50,318.49 L922.10,317.46 L922.70,316.17 L923.30,315.31 L923.90,315.21 L924.50,313.33 L925.10,313.17 L925.70,312.26 L926.30,311.63 L926.90,311.23 L927.50,310.04 L928.10,310.30 L928.70,310.50 L929.30,309.14 L929.90,309.12 L930.50,308.56 L931.10,308.76 L931.70,307.91 L932.30,308.94 L932.90,307.90 L933.50,307.27 L934.10,308.72 L934.70,308.35 L935.30,308.28 L935.90,308.57 L936.50,308.59 L937.10,309.16 L937.70,310.18 L938.30,310.93 L938.90,311.63 L939.50,312.02 L940.10,312.41 L940.70,313.21 L941.30,314.49 L941.90,315.41 L942.50,315.45 L943.10,316.27 L943.70,317.97 L944.30,318.70 L944.90,319.66 L945.50,319.74 L946.10,321.15 L946.70,322.05 L947.30,323.32 L947.90,323.38 L948.50,325.57 L949.10,325.96 L949.70,326.82 L950.30,326.88 L950.90,328.18 L951.50,329.56 L952.10,329.01 L952.70,330.61 L953.30,331.54 L953.90,331.68 L954.50,333.12 L955.10,333.37 L955.70,334.86 L956.30,335.34 L956.90,336.03 L957.50,337.69 L958.10,338.04 L958.70,339.14 L959.30,338.91 L959.90,340.03 L960.50,341.55 L961.10,342.40 L961.70,342.74 L962.30,343.83 L962.90,343.66 L963.50,344.86 L964.10,344.86 L964.70,346.11 L965.30,346.31 L965.90,346.79 L966.50,347.64 L967.10,348.95 L967.70,348.18 L968.30,348.85 L968.90,350.09 L969.50,349.89 L970.10,351.34 L970.70,351.11 L971.30,351.50 L971.90,352.06 L972.50,353.12 L973.10,353.05 L973.70,353.41 L974.30,353.70 L974.90,353.29 L975.50,353.98 L976.10,355.44 L976.70,355.52 L977.30,355.75 L977.90,356.18 L978.50,356.01 L979.10,356.76 L979.70,356.55 L980.30,357.48 L980.90,357.33 L981.50,357.90 L982.10,358.55 L982.70,358.54 L983.30,359.32 L983.90,359.57 L984.50,359.86 L985.10,360.63 L985.70,359.69 L986.30,359.95 L986.90,361.25 L987.50,361.70 L988.10,362.47 L988.70,362.18 L989.30,362.48 L989.90,361.97 L990.50,362.95 L991.10,363.15 L991.70,362.59 L992.30,362.86 L992.90,363.42 L993.50,363.79 L994.10,362.53 L994.70,364.08 L995.30,364.34 L995.90,364.34 L996.50,364.71 L997.10,364.97 L997.70,364.48 L998.30,365.28 L998.90,365.14 L999.50,364.97 L1000.10,365.63 L1000.70,366.34 L1001.30,365.14 L1001.90,365.17 L1002.50,365.27 L1003.10,367.00 L1003.70,366.09 L1004.30,366.25 L1004.90,365.99 L1005.50,365.99 L1006.10,365.57 L1006.70,366.62 L1007.30,366.72 L1007.90,365.78 L1008.50,366.26 L1009.10,366.45 L1009.70,366.83 L1010.30,367.01 L1010.90,367.46 L1011.50,367.62 L1012.10,367.53 L1012.70,367.70 L1013.30,366.62 L1013.90,366.93 L1014.50,367.74 L1015.10,367.39 L1015.70,367.30 L1016.30,366.42 L1016.90,366.50 L1017.50,367.69 L1018.10,367.53 L1018.70,367.25 L1019.30,367.21 L1019.90,366.62 L1020.50,367.57 L1021.10,367.86 L1021.70,368.14 L1022.30,367.42 L1022.90,367.30 L1023.50,366.90 L1024.10,367.94 L1024.70,368.15 L1025.30,367.11 L1025.90,367.51 L1026.50,367.41 L1027.10,367.11 L1027.70,366.23 L1028.30,367.19 L1028.90,367.62 L1029.50,366.69 L1030.10,366.95 L1030.70,365.84 L1031.30,367.88 L1031.90,367.52 L1032.50,367.30 L1033.10,367.15 L1033.70,366.97 L1034.30,367.21 L1034.90,367.09 L1035.50,367.10 L1036.10,367.18 L1036.70,367.24 L1037.30,367.86 L1037.90,366.49 L1038.50,367.24 L1039.10,366.82 L1039.70,366.57 L1040.30,366.00 L1040.90,367.31 L1041.50,366.57 L1042.10,366.65 L1042.70,367.12 L1043.30,366.28 L1043.90,366.59 L1044.50,366.30 L1045.10,366.41 L1045.70,366.18 L1046.30,364.97 L1046.90,365.37 L1047.50,364.49 L1048.10,364.15 L1048.70,363.53 L1049.30,363.50 L1049.90,362.11 L1050.50,362.29 L1051.10,362.21 L1051.70,361.04 L1052.30,361.53 L1052.90,359.68 L1053.50,359.46 L1054.10,358.44 L1054.70,357.62 L1055.30,356.58 L1055.90,355.97 L1056.50,355.27 L1057.10,353.95 L1057.70,353.66 L1058.30,352.76 L1058.90,350.07 L1059.50,349.68 L1060.10,347.77 L1060.70,346.05 L1061.30,344.84 L1061.90,342.46 L1062.50,339.98 L1063.10,337.32 L1063.70,333.66 L1064.30,331.32 L1064.90,327.43 L1065.50,324.16 L1066.10,320.52 L1066.70,317.04 L1067.30,313.40 L1067.90,308.87 L1068.50,304.47 L1069.10,299.23 L1069.70,294.28 L1070.30,288.82 L1070.90,282.23 L1071.50,277.03 L1072.10,269.66 L1072.70,262.68 L1073.30,256.29 L1073.90,248.52 L1074.50,239.34 L1075.10,230.90 L1075.70,223.69 L1076.30,214.60 L1076.90,205.65 L1077.50,197.76 L1078.10,190.45 L1078.70,182.33 L1079.30,174.99 L1079.90,167.86 L1080.50,160.62 L1081.10,153.54 L1081.70,146.80 L1082.30,141.55 L1082.90,135.64 L1083.50,130.83 L1084.10,126.93 L1084.70,123.06 L1085.30,119.72 L1085.90,118.22 L1086.50,119.62 L1087.10,122.33 L1087.70,124.85 L1088.30,129.82 L1088.90,135.58 L1089.50,140.73 L1090.10,145.57 L1090.70,151.00 L1091.30,156.21 L1091.90,162.52 L1092.50,169.59 L1093.10,175.96 L1093.70,183.29 L1094.30,192.44 L1094.90,202.70 L1095.50,213.09 L1096.10,222.87 L1096.70,231.98 L1097.30,241.45 L1097.90,250.94 L1098.50,260.03 L1099.10,271.14 L1099.70,284.27 L1100.30,295.93 L1100.90,306.77 L1101.50,314.28 L1102.10,320.47 L1102.70,325.51 L1103.30,329.84 L1103.90,334.25 L1104.50,337.56 L1105.10,340.92 L1105.70,344.11 L1106.30,347.99 L1106.90,350.04 L1107.50,353.25 L1108.10,355.64 L1108.70,357.79 L1109.30,359.47 L1109.90,361.21 L1110.50,363.13 L1111.10,364.56 L1111.70,365.91 L1112.30,368.14 L1112.90,368.91 L1113.50,371.07 L1114.10,372.01 L1114.70,373.02 L1115.30,374.55 L1115.90,376.02 L1116.50,376.43 L1117.10,377.72 L1117.70,378.78 L1118.30,380.20 L1118.90,381.27 L1119.50,382.10 L1120.10,382.75 L1120.70,383.61 L1121.30,384.89 L1121.90,385.62 L1122.50,386.07 L1123.10,386.37 L1123.70,387.67 L1124.30,388.26 L1124.90,388.93 L1125.50,390.03 L1126.10,390.39 L1126.70,390.46 L1127.30,391.03 L1127.90,392.27 L1128.50,392.42 L1129.10,393.09 L1129.70,393.21 L1130.30,393.33 L1130.90,394.03 L1131.50,394.70 L1132.10,394.55 L1132.70,394.31 L1133.30,394.74 L1133.90,394.87 L1134.50,395.24 L1135.10,395.66 L1135.70,396.10 L1136.30,395.73 L1136.90,395.67 L1137.50,395.96 L1138.10,396.07 L1138.70,396.05 L1139.30,396.30 L1139.90,396.40 L1140.50,396.15 L1141.10,396.77 L1141.70,396.59 L1142.30,396.49 L1142.90,397.01 L1143.50,396.80 L1144.10,397.54 L1144.70,397.23 L1145.30,397.18 L1145.90,396.99 L1146.50,397.16 L1147.10,397.59 L1147.70,397.19 L1148.30,397.68 L1148.90,396.88 L1149.50,397.62 L1150.10,397.86 L1150.70,397.77 L1151.30,397.71 L1151.90,398.07 L1152.50,397.55 L1153.10,397.56 L1153.70,397.93 L1154.30,398.30 L1154.90,398.12 L1155.50,397.97 L1156.10,398.16 L1156.70,398.24 L1157.30,397.77 L1157.90,397.34 L1158.50,397.91 L1159.10,397.80 L1159.70,398.11 L1160.30,397.96 L1160.90,398.09 L1161.50,398.51 L1162.10,398.44 L1162.70,398.43 L1163.30,398.97 L1163.90,398.36 L1164.50,398.41 L1165.10,398.93 L1165.70,398.24 L1166.30,398.11 L1166.90,399.02 L1167.50,398.75 L1168.10,398.85 L1168.70,398.89 L1169.30,398.99 L1169.90,398.60 L1170.50,398.74 L1171.10,398.45 L1171.70,398.85 L1172.30,398.90 L1172.90,398.72 L1173.50,399.08 L1174.10,399.79 L1174.70,398.58 L1175.30,399.20 L1175.90,399.25 L1176.50,399.31 L1177.10,398.77 L1177.70,399.40 L1178.30,399.25 L1178.90,399.04 L1179.50,399.00 L1180.10,399.19 L1180.70,399.42 L1181.30,399.43 L1181.90,399.87 L1182.50,399.10 L1183.10,399.41 L1183.70,399.11 L1184.30,399.49 L1184.90,399.31 L1185.50,399.11 L1186.10,398.91 L1186.70,399.09 L1187.30,399.41 L1187.90,399.80 L1188.50,399.60 L1189.10,399.03 L1189.70,399.25 L1190.30,399.42 L1190.90,399.38 L1191.50,399.45 L1192.10,399.67 L1192.70,399.51 L1193.30,399.24 L1193.90,398.88 L1194.50,399.36 L1195.10,398.97 L1195.70,399.43 L1196.30,399.57 L1196.90,399.08 L1197.50,399.44 L1198.10,399.38 L1198.70,400.06 L1199.30,399.63 L1199.90,398.92 L1200.50,399.62 L1201.10,399.61 L1201.70,399.43 L1202.30,399.38 L1202.90,399.67 L1203.50,399.68 L1204.10,399.61 L1204.70,399.17 L1205.30,399.39 L1205.90,398.99 L1206.50,399.00 L1207.10,399.27 L1207.70,399.11 L1208.30,399.29 L1208.90,400.14 L1209.50,399.53 L1210.10,399.11 L1210.70,398.71 L1211.30,399.09 L1211.90,398.90 L1212.50,398.65 L1213.10,399.51 L1213.70,399.13 L1214.30,399.39 L1214.90,400.17 L1215.50,399.31 L1216.10,399.25 L1216.70,399.30 L1217.30,399.10 L1217.90,398.92 L1218.50,399.09 L1219.10,399.48 L1219.70,399.04 L1220.30,398.69 L1220.90,398.72 L1221.50,398.77 L1222.10,399.07 L1222.70,399.20 L1223.30,399.18 L1223.90,399.39 L1224.50,398.96 L1225.10,399.26 L1225.70,399.10 L1226.30,399.21 L1226.90,398.44 L1227.50,399.37 L1228.10,398.53 L1228.70,398.65 L1229.30,399.22 L1229.90,398.87 L1230.50,399.52 L1231.10,399.04 L1231.70,398.68 L1232.30,399.04 L1232.90,398.87 L1233.50,399.46 L1234.10,399.48 L1234.70,399.22 L1235.30,398.87 L1235.90,399.02 L1236.50,399.31 L1237.10,398.76 L1237.70,398.76 L1238.30,399.25 L1238.90,399.22 L1239.50,398.93 L1240.10,398.92 L1240.70,398.41 L1241.30,399.35 L1241.90,398.96 L1242.50,398.57 L1243.10,398.66 L1243.70,398.73 L1244.30,399.51 L1244.90,399.21 L1245.50,398.60 L1246.10,399.56 L1246.70,399.40 L1247.30,398.68 L1247.90,398.20 L1248.50,399.29 L1249.10,398.82 L1249.70,398.96 L1250.30,398.84 L1250.90,399.38 L1251.50,399.44 L1252.10,399.24 L1252.70,398.95 L1253.30,399.08 L1253.90,399.19 L1254.50,398.53 L1255.10,399.37 L1255.70,398.90 L1256.30,399.08 L1256.90,399.04 L1257.50,399.27 L1258.10,399.32 L1258.70,399.66 L1259.30,398.90" fill="none" stroke="#000" stroke-width="3.4" stroke-linejoin="round" stroke-linecap="round" />
<text transform="translate(807.05,44.40) scale(0.9988,1)" font-size="23.26" font-family="Liberation Sans, sans-serif" font-weight="bold" stroke="#000" stroke-width="0.3" fill="#000">O1s</text>
<text transform="translate(909.63,297.30) scale(0.9951,1)" font-size="24.42" font-family="Liberation Sans, sans-serif" font-weight="bold" stroke="#000" stroke-width="0.3" fill="#000">V2p</text>
<text transform="translate(953.37,304.30) scale(1.0951,1)" font-size="17.88" font-family="Liberation Sans, sans-serif" font-weight="bold" stroke="#000" stroke-width="0.3" fill="#000">1/2</text>
<text transform="translate(1059.34,104.90) scale(0.9630,1)" font-size="25.00" font-family="Liberation Sans, sans-serif" font-weight="bold" stroke="#000" stroke-width="0.3" fill="#000">V2p</text>
<text transform="translate(1103.16,111.90) scale(1.0492,1)" font-size="18.31" font-family="Liberation Sans, sans-serif" font-weight="bold" stroke="#000" stroke-width="0.3" fill="#000">3/2</text>
<rect x="60.3" y="504.0" width="568.10" height="421.60" fill="none" stroke="#000" stroke-width="2.2"/>
<line x1="117.11" y1="925.60" x2="117.11" y2="921.60" stroke="#000" stroke-width="2"/>
<line x1="173.92" y1="925.60" x2="173.92" y2="917.60" stroke="#000" stroke-width="2"/>
<line x1="230.73" y1="925.60" x2="230.73" y2="921.60" stroke="#000" stroke-width="2"/>
<line x1="287.54" y1="925.60" x2="287.54" y2="917.60" stroke="#000" stroke-width="2"/>
<line x1="344.35" y1="925.60" x2="344.35" y2="921.60" stroke="#000" stroke-width="2"/>
<line x1="401.16" y1="925.60" x2="401.16" y2="917.60" stroke="#000" stroke-width="2"/>
<line x1="457.97" y1="925.60" x2="457.97" y2="921.60" stroke="#000" stroke-width="2"/>
<line x1="514.78" y1="925.60" x2="514.78" y2="917.60" stroke="#000" stroke-width="2"/>
<line x1="571.59" y1="925.60" x2="571.59" y2="921.60" stroke="#000" stroke-width="2"/>
<text transform="translate(40.19,950.60) scale(1.0000,1)" font-size="23.85" font-family="Liberation Sans, sans-serif" font-weight="bold" stroke="#000" stroke-width="0.3" fill="#000">536</text>
<text transform="translate(153.44,950.60) scale(1.0000,1)" font-size="23.85" font-family="Liberation Sans, sans-serif" font-weight="bold" stroke="#000" stroke-width="0.3" fill="#000">534</text>
<text transform="translate(267.47,950.60) scale(1.0000,1)" font-size="23.85" font-family="Liberation Sans, sans-serif" font-weight="bold" stroke="#000" stroke-width="0.3" fill="#000">532</text>
<text transform="translate(381.11,950.60) scale(1.0000,1)" font-size="23.85" font-family="Liberation Sans, sans-serif" font-weight="bold" stroke="#000" stroke-width="0.3" fill="#000">530</text>
<text transform="translate(494.60,950.60) scale(1.0000,1)" font-size="23.85" font-family="Liberation Sans, sans-serif" font-weight="bold" stroke="#000" stroke-width="0.3" fill="#000">528</text>
<text transform="translate(608.29,950.60) scale(1.0000,1)" font-size="23.85" font-family="Liberation Sans, sans-serif" font-weight="bold" stroke="#000" stroke-width="0.3" fill="#000">526</text>
<text transform="translate(255.47,982.80) scale(1.0148,1)" font-size="22.53" font-family="Liberation Sans, sans-serif" font-weight="bold" stroke="#000" stroke-width="0.3" fill="#000">Binding Energy (eV)</text>
<text transform="translate(36.70,779.64) rotate(-90) scale(0.9350,1)" font-size="24.56" font-family="Liberation Sans, sans-serif" font-weight="bold" stroke="#000" stroke-width="0.3">Intensity (a.u.)</text>
<text transform="translate(70.69,544.25) scale(1.0266,1)" font-size="35.40" font-family="Liberation Sans, sans-serif" font-weight="bold" stroke="#000" stroke-width="0.3" fill="#000">(c)</text>
<path d="M134.15,866.50 L139.83,866.50 L145.51,866.50 L151.20,866.50 L156.88,866.50 L162.56,866.50 L168.24,866.50 L173.92,866.50 L179.60,866.50 L185.28,866.51 L190.96,866.51 L196.64,866.52 L202.32,866.52 L208.01,866.53 L213.69,866.55 L219.37,866.57 L225.05,866.59 L230.73,866.63 L236.41,866.67 L242.09,866.73 L247.77,866.80 L253.45,866.87 L259.13,866.96 L264.82,867.04 L270.50,867.11 L276.18,867.13 L281.86,867.05 L287.54,866.78 L293.22,866.19 L298.90,865.10 L304.58,863.28 L310.26,860.48 L315.94,856.44 L321.63,851.00 L327.31,844.14 L332.99,836.07 L338.67,827.26 L344.35,818.48 L350.03,810.63 L355.71,804.68 L361.39,801.47 L367.07,801.51 L372.75,804.91 L378.44,811.32 L384.12,820.05 L389.80,830.17 L395.48,840.73 L401.16,850.90 L406.84,860.08 L412.52,867.92 L418.20,874.32 L423.88,879.37 L429.56,883.24 L435.25,886.15 L440.93,888.32 L446.61,889.93 L452.29,891.11 L457.97,891.98 L463.65,892.62 L469.33,893.07 L475.01,893.39 L480.69,893.61 L486.38,893.76 L492.06,893.86 L497.74,893.92 L503.42,893.95 L509.10,893.97 L514.78,893.99 L520.46,893.99 L526.14,894.00 L531.82,894.00 L537.50,894.00" fill="none" stroke="#ffff00" stroke-width="3.2" stroke-linejoin="round" stroke-linecap="round" />
<path d="M287.54,867.65 L293.22,867.79 L298.90,867.89 L304.58,867.92 L310.26,867.80 L315.94,867.44 L321.63,866.66 L327.31,865.19 L332.99,862.67 L338.67,858.58 L344.35,852.31 L350.03,843.12 L355.71,830.26 L361.39,813.05 L367.07,791.08 L372.75,764.34 L378.44,733.40 L384.12,699.51 L389.80,664.63 L395.48,631.25 L401.16,602.18 L406.84,580.13 L412.52,567.34 L418.20,565.24 L423.88,574.15 L429.56,593.27 L435.25,620.81 L440.93,654.24 L446.61,690.74 L452.29,727.56 L457.97,762.37 L463.65,793.46 L469.33,819.83 L475.01,841.17 L480.69,857.65 L486.38,869.85 L492.06,878.51 L497.74,884.40 L503.42,888.26 L509.10,890.68 L514.78,892.15 L520.46,893.00 L526.14,893.48 L531.82,893.74 L537.50,893.87" fill="none" stroke="#ff0000" stroke-width="3.2" stroke-linejoin="round" stroke-linecap="round" />
<path d="M151.20,866.46 L156.88,866.44 L162.56,866.40 L168.24,866.34 L173.92,866.24 L179.60,866.10 L185.28,865.89 L190.96,865.60 L196.64,865.19 L202.32,864.62 L208.01,863.87 L213.69,862.90 L219.37,861.67 L225.05,860.14 L230.73,858.29 L236.41,856.13 L242.09,853.65 L247.77,850.91 L253.45,847.97 L259.13,844.91 L264.82,841.86 L270.50,838.95 L276.18,836.32 L281.86,834.11 L287.54,832.46 L293.22,831.46 L298.90,831.18 L304.58,831.66 L310.26,832.87 L315.94,834.76 L321.63,837.23 L327.31,840.18 L332.99,843.46 L338.67,846.94 L344.35,850.51 L350.03,854.03 L355.71,857.44 L361.39,860.66 L367.07,863.67 L372.75,866.45 L378.44,869.02 L384.12,871.40 L389.80,873.63 L395.48,875.75 L401.16,877.78 L406.84,879.73 L412.52,881.62 L418.20,883.43 L423.88,885.14 L429.56,886.72 L435.25,888.16 L440.93,889.42 L446.61,890.50" fill="none" stroke="#00ff00" stroke-width="3.2" stroke-linejoin="round" stroke-linecap="round" />
<path d="M134.15,866.50 L139.83,866.50 L145.51,866.50 L151.20,866.50 L156.88,866.50 L162.56,866.50 L168.24,866.50 L173.92,866.50 L179.60,866.50 L185.28,866.51 L190.96,866.51 L196.64,866.52 L202.32,866.52 L208.01,866.53 L213.69,866.55 L219.37,866.57 L225.05,866.59 L230.73,866.63 L236.41,866.67 L242.09,866.73 L247.77,866.80 L253.45,866.88 L259.13,866.98 L264.82,867.09 L270.50,867.22 L276.18,867.36 L281.86,867.52 L287.54,867.68 L293.22,867.86 L298.90,868.05 L304.58,868.24 L310.26,868.45 L315.94,868.67 L321.63,868.90 L327.31,869.16 L332.99,869.46 L338.67,869.80 L344.35,870.19 L350.03,870.65 L355.71,871.18 L361.39,871.80 L367.07,872.52 L372.75,873.34 L378.44,874.27 L384.12,875.33 L389.80,876.51 L395.48,877.82 L401.16,879.23 L406.84,880.73 L412.52,882.30 L418.20,883.88 L423.88,885.43 L429.56,886.91 L435.25,888.27 L440.93,889.49 L446.61,890.54 L452.29,891.42 L457.97,892.13 L463.65,892.69 L469.33,893.10 L475.01,893.41 L480.69,893.62 L486.38,893.76 L492.06,893.86 L497.74,893.92 L503.42,893.95 L509.10,893.97 L514.78,893.99 L520.46,893.99 L526.14,894.00 L531.82,894.00 L537.50,894.00" fill="none" stroke="#000" stroke-width="2.7" stroke-linejoin="round" stroke-linecap="round" stroke-dasharray="0.01 5.4"/>
<path d="M65.98,866.53 L71.66,867.59 L77.34,867.48 L83.02,866.09 L88.70,866.26 L94.39,866.08 L100.07,866.96 L105.75,866.45 L111.43,867.10 L117.11,865.02 L122.79,867.75 L128.47,866.42 L134.15,867.04 L139.83,866.38 L145.51,866.17 L151.20,866.83 L156.88,867.08 L162.56,866.18 L168.24,866.09 L173.92,866.52 L179.60,864.93 L185.28,863.94 L190.96,864.90 L196.64,863.46 L202.32,861.86 L208.01,862.10 L213.69,861.57 L219.37,859.90 L225.05,858.16 L230.73,857.43 L236.41,855.71 L242.09,851.99 L247.77,848.47 L253.45,846.09 L259.13,843.05 L264.82,839.07 L270.50,836.85 L276.18,834.72 L281.86,831.60 L287.54,829.39 L293.22,828.89 L298.90,827.51 L304.58,826.76 L310.26,822.93 L315.94,820.61 L321.63,816.33 L327.31,809.75 L332.99,803.36 L338.67,793.61 L344.35,780.32 L350.03,767.59 L355.71,750.67 L361.39,732.09 L367.07,711.55 L372.75,689.78 L378.44,664.12 L384.12,640.79 L389.80,615.86 L395.48,590.44 L401.16,571.47 L406.84,555.22 L412.52,548.92 L418.20,552.19 L423.88,566.84 L429.56,589.52 L435.25,617.86 L440.93,653.48 L446.61,690.00 L452.29,727.62 L457.97,761.79 L463.65,794.25 L469.33,820.28 L475.01,841.01 L480.69,858.15 L486.38,870.86 L492.06,879.94 L497.74,883.14 L503.42,888.96 L509.10,891.05 L514.78,892.07 L520.46,892.20 L526.14,894.49 L531.82,892.73 L537.50,894.33 L543.18,894.98 L548.87,892.69 L554.55,893.75 L560.23,892.95 L565.91,894.19 L571.59,895.21 L577.27,895.62 L582.95,892.58 L588.63,893.54 L594.31,894.45 L600.00,894.64 L605.68,892.81 L611.36,890.56 L617.04,889.68 L622.72,887.31" fill="none" stroke="#000" stroke-width="3.2" stroke-linejoin="round" stroke-linecap="round" />
<path d="M65.98,866.30 L71.66,865.77 L77.34,866.89 L83.02,866.81 L88.70,866.41 L94.39,866.28 L100.07,865.21 L105.75,866.01 L111.43,867.71 L117.11,866.31 L122.79,865.06 L128.47,867.83 L134.15,866.49 L139.83,866.49 L145.51,866.48 L151.20,866.46 L156.88,866.44 L162.56,866.40 L168.24,866.34 L173.92,866.24 L179.60,866.10 L185.28,865.89 L190.96,865.60 L196.64,865.19 L202.32,864.62 L208.01,863.87 L213.69,862.90 L219.37,861.67 L225.05,860.14 L230.73,858.29 L236.41,856.13 L242.09,853.65 L247.77,850.91 L253.45,847.96 L259.13,844.89 L264.82,841.81 L270.50,838.83 L276.18,836.08 L281.86,833.63 L287.54,831.52 L293.22,829.71 L298.90,828.08 L304.58,826.37 L310.26,824.26 L315.94,821.31 L321.63,817.09 L327.31,811.18 L332.99,803.28 L338.67,793.20 L344.35,780.91 L350.03,766.49 L355.71,750.01 L361.39,731.58 L367.07,711.23 L372.75,689.02 L378.44,665.19 L384.12,640.30 L389.80,615.41 L395.48,592.10 L401.16,572.39 L406.84,558.47 L412.52,552.28 L418.20,555.24 L423.88,567.80 L429.56,589.42 L435.25,618.57 L440.93,653.00 L446.61,690.08 L452.29,727.23 L457.97,762.21 L463.65,793.38 L469.33,819.80 L475.01,841.15 L480.69,857.64 L486.38,869.85 L492.06,878.51 L497.74,884.40 L503.42,888.26 L509.10,890.68 L514.78,892.15 L520.46,893.00 L526.14,893.48 L531.82,893.74 L537.50,893.87 L543.18,894.47 L548.87,896.08 L554.55,894.05 L560.23,893.53 L565.91,892.55 L571.59,895.32 L577.27,896.57 L582.95,893.18 L588.63,893.35 L594.31,894.48 L600.00,892.55 L605.68,892.20 L611.36,890.81 L617.04,889.64 L622.72,888.42" fill="none" stroke="#0000ff" stroke-width="3.4" stroke-linejoin="round" stroke-linecap="round" />
<rect x="692.0" y="504.0" width="568.60" height="422.40" fill="none" stroke="#000" stroke-width="2.2"/>
<line x1="739.38" y1="926.40" x2="739.38" y2="922.40" stroke="#000" stroke-width="2"/>
<line x1="786.77" y1="926.40" x2="786.77" y2="918.40" stroke="#000" stroke-width="2"/>
<line x1="834.15" y1="926.40" x2="834.15" y2="922.40" stroke="#000" stroke-width="2"/>
<line x1="881.53" y1="926.40" x2="881.53" y2="918.40" stroke="#000" stroke-width="2"/>
<line x1="928.92" y1="926.40" x2="928.92" y2="922.40" stroke="#000" stroke-width="2"/>
<line x1="976.30" y1="926.40" x2="976.30" y2="918.40" stroke="#000" stroke-width="2"/>
<line x1="1023.68" y1="926.40" x2="1023.68" y2="922.40" stroke="#000" stroke-width="2"/>
<line x1="1071.07" y1="926.40" x2="1071.07" y2="918.40" stroke="#000" stroke-width="2"/>
<line x1="1118.45" y1="926.40" x2="1118.45" y2="922.40" stroke="#000" stroke-width="2"/>
<line x1="1165.83" y1="926.40" x2="1165.83" y2="918.40" stroke="#000" stroke-width="2"/>
<line x1="1213.22" y1="926.40" x2="1213.22" y2="922.40" stroke="#000" stroke-width="2"/>
<text transform="translate(671.93,951.40) scale(1.0000,1)" font-size="23.85" font-family="Liberation Sans, sans-serif" font-weight="bold" stroke="#000" stroke-width="0.3" fill="#000">522</text>
<text transform="translate(766.71,951.40) scale(1.0000,1)" font-size="23.85" font-family="Liberation Sans, sans-serif" font-weight="bold" stroke="#000" stroke-width="0.3" fill="#000">520</text>
<text transform="translate(861.36,951.40) scale(1.0000,1)" font-size="23.85" font-family="Liberation Sans, sans-serif" font-weight="bold" stroke="#000" stroke-width="0.3" fill="#000">518</text>
<text transform="translate(956.19,951.40) scale(1.0000,1)" font-size="23.85" font-family="Liberation Sans, sans-serif" font-weight="bold" stroke="#000" stroke-width="0.3" fill="#000">516</text>
<text transform="translate(1050.58,951.40) scale(1.0000,1)" font-size="23.85" font-family="Liberation Sans, sans-serif" font-weight="bold" stroke="#000" stroke-width="0.3" fill="#000">514</text>
<text transform="translate(1145.77,951.40) scale(1.0000,1)" font-size="23.85" font-family="Liberation Sans, sans-serif" font-weight="bold" stroke="#000" stroke-width="0.3" fill="#000">512</text>
<text transform="translate(1240.55,951.40) scale(1.0000,1)" font-size="23.85" font-family="Liberation Sans, sans-serif" font-weight="bold" stroke="#000" stroke-width="0.3" fill="#000">510</text>
<text transform="translate(887.77,983.60) scale(1.0148,1)" font-size="22.53" font-family="Liberation Sans, sans-serif" font-weight="bold" stroke="#000" stroke-width="0.3" fill="#000">Binding Energy (eV)</text>
<text transform="translate(669.00,779.64) rotate(-90) scale(0.9462,1)" font-size="24.27" font-family="Liberation Sans, sans-serif" font-weight="bold" stroke="#000" stroke-width="0.3">Intensity (a.u.)</text>
<text transform="translate(698.96,544.25) scale(1.1589,1)" font-size="35.40" font-family="Liberation Sans, sans-serif" font-weight="bold" stroke="#000" stroke-width="0.3" fill="#000">(d)</text>
<path d="M810.49,843.24 L815.23,842.96 L819.97,842.43 L824.70,841.47 L829.44,839.78 L834.18,836.95 L838.92,832.40 L843.66,825.42 L848.39,815.17 L853.13,800.81 L857.87,781.64 L862.61,757.28 L867.35,727.95 L872.08,694.59 L876.82,658.99 L881.56,623.71 L886.30,591.85 L891.04,566.60 L895.77,550.82 L900.51,546.40 L905.25,554.11 L909.99,573.24 L914.73,601.89 L919.46,637.19 L924.20,675.90 L928.94,714.82 L933.68,751.29 L938.42,783.43 L943.15,810.23 L947.89,831.45 L952.63,847.46 L957.37,859.01 L962.11,867.00 L966.84,872.30 L971.58,875.71 L976.32,877.83 L981.06,879.12 L985.80,879.89 L990.53,880.35 L995.27,880.62 L1000.01,880.78 L1004.75,880.88 L1009.49,880.93 L1014.22,880.97 L1018.96,880.98 L1023.70,880.99 L1028.44,881.00" fill="none" stroke="#ff0000" stroke-width="3.2" stroke-linejoin="round" stroke-linecap="round" />
<path d="M810.49,843.50 L815.23,843.50 L819.97,843.51 L824.70,843.52 L829.44,843.55 L834.18,843.59 L838.92,843.67 L843.66,843.79 L848.39,843.99 L853.13,844.30 L857.87,844.76 L862.61,845.41 L867.35,846.30 L872.08,847.48 L876.82,848.98 L881.56,850.80 L886.30,852.94 L891.04,855.34 L895.77,857.95 L900.51,860.66 L905.25,863.33 L909.99,865.84 L914.73,868.02 L919.46,869.74 L924.20,870.84 L928.94,871.20 L933.68,870.73 L938.42,869.44 L943.15,867.41 L947.89,864.84 L952.63,862.06 L957.37,859.48 L962.11,857.50 L966.84,856.50 L971.58,856.68 L976.32,858.05 L981.06,860.43 L985.80,863.51" fill="none" stroke="#ffff00" stroke-width="3.2" stroke-linejoin="round" stroke-linecap="round" />
<path d="M810.49,843.50 L815.23,843.50 L819.97,843.51 L824.70,843.52 L829.44,843.55 L834.18,843.59 L838.92,843.67 L843.66,843.79 L848.39,843.99 L853.13,844.30 L857.87,844.76 L862.61,845.41 L867.35,846.30 L872.08,847.48 L876.82,848.98 L881.56,850.80 L886.30,852.94 L891.04,855.36 L895.77,857.99 L900.51,860.74 L905.25,863.50 L909.99,866.17 L914.73,868.66 L919.46,870.90 L924.20,872.83 L928.94,874.44 L933.68,875.75 L938.42,876.77 L943.15,877.56 L947.89,878.17 L952.63,878.65 L957.37,879.04 L962.11,879.37 L966.84,879.65 L971.58,879.91 L976.32,880.14 L981.06,880.34 L985.80,880.51 L990.53,880.66 L995.27,880.77 L1000.01,880.85 L1004.75,880.91 L1009.49,880.95 L1014.22,880.97 L1018.96,880.99 L1023.70,880.99 L1028.44,881.00" fill="none" stroke="#000" stroke-width="2.7" stroke-linejoin="round" stroke-linecap="round" stroke-dasharray="0.01 5.4"/>
<path d="M696.78,841.15 L701.52,841.83 L706.25,841.82 L710.99,841.97 L715.73,842.56 L720.47,841.30 L725.21,841.74 L729.94,841.55 L734.68,842.30 L739.42,843.01 L744.16,842.65 L748.90,843.05 L753.63,842.00 L758.37,843.16 L763.11,842.77 L767.85,844.22 L772.59,843.85 L777.32,843.92 L782.06,843.37 L786.80,843.57 L791.54,843.32 L796.28,842.40 L801.01,841.73 L805.75,841.03 L810.49,838.70 L815.23,837.45 L819.97,836.17 L824.70,834.23 L829.44,832.75 L834.18,828.41 L838.92,824.85 L843.66,816.87 L848.39,806.32 L853.13,791.45 L857.87,773.40 L862.61,750.34 L867.35,723.08 L872.08,691.16 L876.82,657.21 L881.56,623.56 L886.30,591.05 L891.04,564.26 L895.77,547.06 L900.51,540.30 L905.25,548.80 L909.99,570.03 L914.73,599.85 L919.46,634.73 L924.20,673.58 L928.94,711.69 L933.68,745.87 L938.42,776.02 L943.15,800.15 L947.89,817.29 L952.63,830.77 L957.37,839.35 L962.11,844.55 L966.84,848.38 L971.58,851.43 L976.32,855.04 L981.06,857.26 L985.80,860.66 L990.53,864.52 L995.27,867.15 L1000.01,869.84 L1004.75,872.69 L1009.49,875.30 L1014.22,876.84 L1018.96,876.92 L1023.70,877.53 L1028.44,878.88 L1033.18,879.37 L1037.91,879.76 L1042.65,880.39 L1047.39,880.88 L1052.13,880.56 L1056.87,880.89 L1061.60,880.15 L1066.34,880.19 L1071.08,880.97 L1075.82,881.23 L1080.56,881.30 L1085.29,881.25 L1090.03,881.36 L1094.77,881.39 L1099.51,880.11 L1104.25,880.63 L1108.98,881.22 L1113.72,881.30 L1118.46,880.24 L1123.20,881.59 L1127.94,880.78 L1132.67,880.88 L1137.41,881.14 L1142.15,881.37 L1146.89,880.28 L1151.63,881.49 L1156.36,881.04 L1161.10,880.61 L1165.84,880.86 L1170.58,879.91 L1175.32,880.68 L1180.05,881.09 L1184.79,880.65 L1189.53,880.84 L1194.27,880.93 L1199.01,881.02 L1203.74,881.51 L1208.48,880.99 L1213.22,880.87 L1217.96,881.27 L1222.70,882.04 L1227.43,880.83 L1232.17,881.26 L1236.91,880.21 L1241.65,881.67 L1246.39,881.33 L1251.12,881.67 L1255.86,880.97" fill="none" stroke="#000" stroke-width="3.2" stroke-linejoin="round" stroke-linecap="round" />
<path d="M696.78,840.73 L701.52,841.66 L706.25,841.75 L710.99,841.26 L715.73,841.17 L720.47,842.09 L725.21,841.99 L729.94,843.25 L734.68,842.11 L739.42,842.30 L744.16,842.62 L748.90,842.14 L753.63,842.61 L758.37,843.77 L763.11,843.21 L767.85,843.17 L772.59,843.06 L777.32,843.95 L782.06,844.13 L786.80,844.11 L791.54,844.00 L796.28,844.42 L801.01,844.57 L805.75,844.10 L810.49,843.24 L815.23,842.96 L819.97,842.43 L824.70,841.47 L829.44,839.78 L834.18,836.95 L838.92,832.40 L843.66,825.42 L848.39,815.17 L853.13,800.81 L857.87,781.64 L862.61,757.28 L867.35,727.95 L872.08,694.59 L876.82,658.99 L881.56,623.71 L886.30,591.84 L891.04,566.59 L895.77,550.78 L900.51,546.32 L905.25,553.95 L909.99,572.90 L914.73,601.25 L919.46,636.03 L924.20,673.90 L928.94,711.57 L933.68,746.27 L938.42,776.10 L943.15,800.07 L947.89,818.12 L952.63,830.87 L957.37,839.45 L962.11,845.14 L966.84,849.16 L971.58,852.48 L976.32,855.74 L981.06,859.21 L985.80,862.89 L990.53,866.59 L995.27,870.07 L1000.01,873.12 L1004.75,875.60 L1009.49,877.49 L1014.22,878.83 L1018.96,879.73 L1023.70,880.30 L1028.44,880.63 L1033.18,881.07 L1037.91,880.07 L1042.65,880.45 L1047.39,880.86 L1052.13,880.95 L1056.87,880.53 L1061.60,881.13 L1066.34,881.42 L1071.08,881.18 L1075.82,881.09 L1080.56,881.33 L1085.29,881.16 L1090.03,880.54 L1094.77,880.92 L1099.51,881.52 L1104.25,880.55 L1108.98,881.02 L1113.72,880.84 L1118.46,880.64 L1123.20,880.60 L1127.94,881.04 L1132.67,881.13 L1137.41,881.12 L1142.15,880.42 L1146.89,880.88 L1151.63,881.14 L1156.36,881.38 L1161.10,881.27 L1165.84,881.33 L1170.58,881.44 L1175.32,881.33 L1180.05,880.67 L1184.79,881.02 L1189.53,880.71 L1194.27,880.05 L1199.01,880.33 L1203.74,881.84 L1208.48,880.55 L1213.22,880.10 L1217.96,880.77 L1222.70,881.61 L1227.43,880.98 L1232.17,881.16 L1236.91,880.89 L1241.65,880.97 L1246.39,881.51 L1251.12,881.32 L1255.86,880.97" fill="none" stroke="#0000ff" stroke-width="3.4" stroke-linejoin="round" stroke-linecap="round" />
<rect x="60.3" y="994.0" width="568.10" height="421.40" fill="none" stroke="#000" stroke-width="2.2"/>
<line x1="117.11" y1="1415.40" x2="117.11" y2="1411.40" stroke="#000" stroke-width="2"/>
<line x1="173.92" y1="1415.40" x2="173.92" y2="1407.40" stroke="#000" stroke-width="2"/>
<line x1="230.73" y1="1415.40" x2="230.73" y2="1411.40" stroke="#000" stroke-width="2"/>
<line x1="287.54" y1="1415.40" x2="287.54" y2="1407.40" stroke="#000" stroke-width="2"/>
<line x1="344.35" y1="1415.40" x2="344.35" y2="1411.40" stroke="#000" stroke-width="2"/>
<line x1="401.16" y1="1415.40" x2="401.16" y2="1407.40" stroke="#000" stroke-width="2"/>
<line x1="457.97" y1="1415.40" x2="457.97" y2="1411.40" stroke="#000" stroke-width="2"/>
<line x1="514.78" y1="1415.40" x2="514.78" y2="1407.40" stroke="#000" stroke-width="2"/>
<line x1="571.59" y1="1415.40" x2="571.59" y2="1411.40" stroke="#000" stroke-width="2"/>
<text transform="translate(40.19,1440.40) scale(1.0000,1)" font-size="23.85" font-family="Liberation Sans, sans-serif" font-weight="bold" stroke="#000" stroke-width="0.3" fill="#000">536</text>
<text transform="translate(153.44,1440.40) scale(1.0000,1)" font-size="23.85" font-family="Liberation Sans, sans-serif" font-weight="bold" stroke="#000" stroke-width="0.3" fill="#000">534</text>
<text transform="translate(267.47,1440.40) scale(1.0000,1)" font-size="23.85" font-family="Liberation Sans, sans-serif" font-weight="bold" stroke="#000" stroke-width="0.3" fill="#000">532</text>
<text transform="translate(381.11,1440.40) scale(1.0000,1)" font-size="23.85" font-family="Liberation Sans, sans-serif" font-weight="bold" stroke="#000" stroke-width="0.3" fill="#000">530</text>
<text transform="translate(494.60,1440.40) scale(1.0000,1)" font-size="23.85" font-family="Liberation Sans, sans-serif" font-weight="bold" stroke="#000" stroke-width="0.3" fill="#000">528</text>
<text transform="translate(608.29,1440.40) scale(1.0000,1)" font-size="23.85" font-family="Liberation Sans, sans-serif" font-weight="bold" stroke="#000" stroke-width="0.3" fill="#000">526</text>
<text transform="translate(255.49,1472.60) scale(1.0039,1)" font-size="22.53" font-family="Liberation Sans, sans-serif" font-weight="bold" stroke="#000" stroke-width="0.3" fill="#000">Binding Energy (eV)</text>
<text transform="translate(36.70,1269.64) rotate(-90) scale(0.9350,1)" font-size="24.56" font-family="Liberation Sans, sans-serif" font-weight="bold" stroke="#000" stroke-width="0.3">Intensity (a.u.)</text>
<text transform="translate(69.06,1034.25) scale(1.0996,1)" font-size="35.40" font-family="Liberation Sans, sans-serif" font-weight="bold" stroke="#000" stroke-width="0.3" fill="#000">(e)</text>
<path d="M139.83,1353.50 L145.51,1353.50 L151.20,1353.51 L156.88,1353.52 L162.56,1353.52 L168.24,1353.53 L173.92,1353.54 L179.60,1353.56 L185.28,1353.58 L190.96,1353.60 L196.64,1353.63 L202.32,1353.66 L208.01,1353.70 L213.69,1353.75 L219.37,1353.80 L225.05,1353.87 L230.73,1353.94 L236.41,1354.03 L242.09,1354.13 L247.77,1354.24 L253.45,1354.36 L259.13,1354.50 L264.82,1354.65 L270.50,1354.80 L276.18,1354.95 L281.86,1355.07 L287.54,1355.13 L293.22,1355.06 L298.90,1354.75 L304.58,1354.03 L310.26,1352.69 L315.94,1350.46 L321.63,1347.02 L327.31,1342.12 L332.99,1335.60 L338.67,1327.51 L344.35,1318.19 L350.03,1308.31 L355.71,1298.82 L361.39,1290.84 L367.07,1285.44 L372.75,1283.48 L378.44,1285.35 L384.12,1290.96 L389.80,1299.70 L395.48,1310.60 L401.16,1322.55 L406.84,1334.47 L412.52,1345.50 L418.20,1355.07 L423.88,1362.94 L429.56,1369.10 L435.25,1373.72 L440.93,1377.07 L446.61,1379.42 L452.29,1381.03 L457.97,1382.10 L463.65,1382.81 L469.33,1383.26 L475.01,1383.54 L480.69,1383.72 L486.38,1383.83 L492.06,1383.89 L497.74,1383.93 L503.42,1383.96 L509.10,1383.97 L514.78,1383.98 L520.46,1383.99 L526.14,1383.99 L531.82,1384.00 L537.50,1384.00 L543.18,1384.00" fill="none" stroke="#ffff00" stroke-width="3.2" stroke-linejoin="round" stroke-linecap="round" />
<path d="M287.54,1355.42 L293.22,1355.65 L298.90,1355.89 L304.58,1356.13 L310.26,1356.36 L315.94,1356.55 L321.63,1356.65 L327.31,1356.56 L332.99,1356.08 L338.67,1354.90 L344.35,1352.56 L350.03,1348.36 L355.71,1341.42 L361.39,1330.70 L367.07,1315.15 L372.75,1293.96 L378.44,1266.82 L384.12,1234.29 L389.80,1197.98 L395.48,1160.61 L401.16,1125.78 L406.84,1097.42 L412.52,1079.13 L418.20,1073.46 L423.88,1081.33 L429.56,1101.86 L435.25,1132.56 L440.93,1169.79 L446.61,1209.59 L452.29,1248.28 L457.97,1283.09 L463.65,1312.30 L469.33,1335.31 L475.01,1352.42 L480.69,1364.41 L486.38,1372.39 L492.06,1377.42 L497.74,1380.44 L503.42,1382.15 L509.10,1383.08 L514.78,1383.56 L520.46,1383.80 L526.14,1383.91 L531.82,1383.96 L537.50,1383.98 L543.18,1383.99" fill="none" stroke="#ff0000" stroke-width="3.2" stroke-linejoin="round" stroke-linecap="round" />
<path d="M151.20,1352.45 L156.88,1352.17 L162.56,1351.81 L168.24,1351.38 L173.92,1350.87 L179.60,1350.25 L185.28,1349.51 L190.96,1348.64 L196.64,1347.63 L202.32,1346.47 L208.01,1345.14 L213.69,1343.63 L219.37,1341.94 L225.05,1340.07 L230.73,1338.02 L236.41,1335.80 L242.09,1333.41 L247.77,1330.88 L253.45,1328.22 L259.13,1325.48 L264.82,1322.68 L270.50,1319.87 L276.18,1317.09 L281.86,1314.40 L287.54,1311.83 L293.22,1309.45 L298.90,1307.31 L304.58,1305.46 L310.26,1303.94 L315.94,1302.79 L321.63,1302.05 L327.31,1301.76 L332.99,1301.92 L338.67,1302.57 L344.35,1303.69 L350.03,1305.30 L355.71,1307.36 L361.39,1309.87 L367.07,1312.80 L372.75,1316.10 L378.44,1319.75 L384.12,1323.70 L389.80,1327.90 L395.48,1332.30 L401.16,1336.85 L406.84,1341.47 L412.52,1346.09 L418.20,1350.62 L423.88,1354.97 L429.56,1359.06 L435.25,1362.83 L440.93,1366.22 L446.61,1369.20 L452.29,1371.79 L457.97,1373.99 L463.65,1375.83 L469.33,1377.37 L475.01,1378.63 L480.69,1379.67 L486.38,1380.53 L492.06,1381.22 L497.74,1381.79" fill="none" stroke="#00ff00" stroke-width="3.2" stroke-linejoin="round" stroke-linecap="round" />
<path d="M139.83,1353.50 L145.51,1353.50 L151.20,1353.51 L156.88,1353.52 L162.56,1353.52 L168.24,1353.53 L173.92,1353.54 L179.60,1353.56 L185.28,1353.58 L190.96,1353.60 L196.64,1353.63 L202.32,1353.66 L208.01,1353.70 L213.69,1353.75 L219.37,1353.80 L225.05,1353.87 L230.73,1353.94 L236.41,1354.03 L242.09,1354.13 L247.77,1354.24 L253.45,1354.36 L259.13,1354.50 L264.82,1354.66 L270.50,1354.83 L276.18,1355.01 L281.86,1355.21 L287.54,1355.42 L293.22,1355.65 L298.90,1355.90 L304.58,1356.16 L310.26,1356.43 L315.94,1356.73 L321.63,1357.04 L327.31,1357.39 L332.99,1357.77 L338.67,1358.20 L344.35,1358.68 L350.03,1359.23 L355.71,1359.85 L361.39,1360.56 L367.07,1361.37 L372.75,1362.29 L378.44,1363.32 L384.12,1364.49 L389.80,1365.79 L395.48,1367.23 L401.16,1368.80 L406.84,1370.47 L412.52,1372.21 L418.20,1373.96 L423.88,1375.67 L429.56,1377.28 L435.25,1378.73 L440.93,1380.00 L446.61,1381.05 L452.29,1381.89 L457.97,1382.54 L463.65,1383.02 L469.33,1383.36 L475.01,1383.59 L480.69,1383.74 L486.38,1383.84 L492.06,1383.90 L497.74,1383.93 L503.42,1383.96 L509.10,1383.97 L514.78,1383.98 L520.46,1383.99 L526.14,1383.99 L531.82,1384.00 L537.50,1384.00 L543.18,1384.00" fill="none" stroke="#000" stroke-width="2.7" stroke-linejoin="round" stroke-linecap="round" stroke-dasharray="0.01 5.4"/>
<path d="M65.98,1354.95 L71.66,1351.02 L77.34,1354.24 L83.02,1353.52 L88.70,1354.51 L94.39,1353.75 L100.07,1354.88 L105.75,1353.41 L111.43,1352.93 L117.11,1353.76 L122.79,1353.57 L128.47,1352.85 L134.15,1352.82 L139.83,1353.44 L145.51,1353.25 L151.20,1352.06 L156.88,1351.87 L162.56,1350.37 L168.24,1352.73 L173.92,1350.69 L179.60,1351.31 L185.28,1349.84 L190.96,1350.20 L196.64,1348.86 L202.32,1346.72 L208.01,1346.31 L213.69,1342.86 L219.37,1342.92 L225.05,1338.84 L230.73,1338.21 L236.41,1336.50 L242.09,1333.35 L247.77,1330.22 L253.45,1327.06 L259.13,1324.50 L264.82,1322.61 L270.50,1319.45 L276.18,1315.53 L281.86,1311.84 L287.54,1310.58 L293.22,1306.21 L298.90,1304.32 L304.58,1301.45 L310.26,1299.63 L315.94,1295.65 L321.63,1291.33 L327.31,1285.38 L332.99,1277.17 L338.67,1268.78 L344.35,1258.07 L350.03,1243.40 L355.71,1228.36 L361.39,1210.16 L367.07,1191.46 L372.75,1169.49 L378.44,1145.97 L384.12,1120.23 L389.80,1095.29 L395.48,1068.69 L401.16,1046.72 L406.84,1029.87 L412.52,1023.79 L418.20,1028.97 L423.88,1046.96 L429.56,1076.01 L435.25,1112.57 L440.93,1153.54 L446.61,1193.96 L452.29,1236.55 L457.97,1273.24 L463.65,1303.93 L469.33,1328.90 L475.01,1348.87 L480.69,1360.08 L486.38,1368.49 L492.06,1375.31 L497.74,1378.35 L503.42,1380.54 L509.10,1381.18 L514.78,1382.51 L520.46,1383.33 L526.14,1381.75 L531.82,1382.19 L537.50,1384.48 L543.18,1384.39 L548.87,1383.39 L554.55,1383.03 L560.23,1383.74 L565.91,1382.96 L571.59,1383.67 L577.27,1385.28 L582.95,1384.07 L588.63,1384.91 L594.31,1383.69 L600.00,1383.66 L605.68,1383.57 L611.36,1380.08 L617.04,1379.16 L622.72,1377.20" fill="none" stroke="#000" stroke-width="3.2" stroke-linejoin="round" stroke-linecap="round" />
<path d="M65.98,1353.77 L71.66,1355.04 L77.34,1354.16 L83.02,1351.97 L88.70,1353.19 L94.39,1352.55 L100.07,1352.50 L105.75,1355.41 L111.43,1352.28 L117.11,1353.53 L122.79,1352.51 L128.47,1353.99 L134.15,1353.37 L139.83,1352.87 L145.51,1352.68 L151.20,1352.45 L156.88,1352.17 L162.56,1351.81 L168.24,1351.38 L173.92,1350.87 L179.60,1350.25 L185.28,1349.51 L190.96,1348.64 L196.64,1347.63 L202.32,1346.47 L208.01,1345.14 L213.69,1343.63 L219.37,1341.94 L225.05,1340.07 L230.73,1338.02 L236.41,1335.80 L242.09,1333.41 L247.77,1330.88 L253.45,1328.22 L259.13,1325.48 L264.82,1322.67 L270.50,1319.84 L276.18,1317.03 L281.86,1314.26 L287.54,1311.54 L293.22,1308.85 L298.90,1306.15 L304.58,1303.30 L310.26,1300.12 L315.94,1296.34 L321.63,1291.64 L327.31,1285.65 L332.99,1278.06 L338.67,1268.58 L344.35,1257.08 L350.03,1243.51 L355.71,1227.90 L361.39,1210.29 L367.07,1190.65 L372.75,1168.96 L378.44,1145.27 L384.12,1119.96 L389.80,1093.98 L395.48,1069.04 L401.16,1047.58 L406.84,1032.42 L412.52,1026.29 L418.20,1031.22 L423.88,1047.89 L429.56,1075.46 L435.25,1111.64 L440.93,1153.08 L446.61,1196.11 L452.29,1237.31 L457.97,1274.10 L463.65,1304.90 L469.33,1329.23 L475.01,1347.42 L480.69,1360.33 L486.38,1369.07 L492.06,1374.75 L497.74,1378.29 L503.42,1380.44 L509.10,1381.73 L514.78,1382.51 L520.46,1382.98 L526.14,1383.28 L531.82,1383.48 L537.50,1383.62 L543.18,1383.72 L548.87,1383.92 L554.55,1383.77 L560.23,1385.02 L565.91,1382.99 L571.59,1383.21 L577.27,1382.84 L582.95,1385.30 L588.63,1383.68 L594.31,1382.83 L600.00,1382.95 L605.68,1384.96 L611.36,1381.04 L617.04,1380.29 L622.72,1377.79" fill="none" stroke="#0000ff" stroke-width="3.4" stroke-linejoin="round" stroke-linecap="round" />
<rect x="692.0" y="994.5" width="568.60" height="421.50" fill="none" stroke="#000" stroke-width="2.2"/>
<line x1="739.38" y1="1416.00" x2="739.38" y2="1412.00" stroke="#000" stroke-width="2"/>
<line x1="786.77" y1="1416.00" x2="786.77" y2="1408.00" stroke="#000" stroke-width="2"/>
<line x1="834.15" y1="1416.00" x2="834.15" y2="1412.00" stroke="#000" stroke-width="2"/>
<line x1="881.53" y1="1416.00" x2="881.53" y2="1408.00" stroke="#000" stroke-width="2"/>
<line x1="928.92" y1="1416.00" x2="928.92" y2="1412.00" stroke="#000" stroke-width="2"/>
<line x1="976.30" y1="1416.00" x2="976.30" y2="1408.00" stroke="#000" stroke-width="2"/>
<line x1="1023.68" y1="1416.00" x2="1023.68" y2="1412.00" stroke="#000" stroke-width="2"/>
<line x1="1071.07" y1="1416.00" x2="1071.07" y2="1408.00" stroke="#000" stroke-width="2"/>
<line x1="1118.45" y1="1416.00" x2="1118.45" y2="1412.00" stroke="#000" stroke-width="2"/>
<line x1="1165.83" y1="1416.00" x2="1165.83" y2="1408.00" stroke="#000" stroke-width="2"/>
<line x1="1213.22" y1="1416.00" x2="1213.22" y2="1412.00" stroke="#000" stroke-width="2"/>
<text transform="translate(671.93,1441.00) scale(1.0000,1)" font-size="23.85" font-family="Liberation Sans, sans-serif" font-weight="bold" stroke="#000" stroke-width="0.3" fill="#000">522</text>
<text transform="translate(766.71,1441.00) scale(1.0000,1)" font-size="23.85" font-family="Liberation Sans, sans-serif" font-weight="bold" stroke="#000" stroke-width="0.3" fill="#000">520</text>
<text transform="translate(861.36,1441.00) scale(1.0000,1)" font-size="23.85" font-family="Liberation Sans, sans-serif" font-weight="bold" stroke="#000" stroke-width="0.3" fill="#000">518</text>
<text transform="translate(956.19,1441.00) scale(1.0000,1)" font-size="23.85" font-family="Liberation Sans, sans-serif" font-weight="bold" stroke="#000" stroke-width="0.3" fill="#000">516</text>
<text transform="translate(1050.58,1441.00) scale(1.0000,1)" font-size="23.85" font-family="Liberation Sans, sans-serif" font-weight="bold" stroke="#000" stroke-width="0.3" fill="#000">514</text>
<text transform="translate(1145.77,1441.00) scale(1.0000,1)" font-size="23.85" font-family="Liberation Sans, sans-serif" font-weight="bold" stroke="#000" stroke-width="0.3" fill="#000">512</text>
<text transform="translate(1240.55,1441.00) scale(1.0000,1)" font-size="23.85" font-family="Liberation Sans, sans-serif" font-weight="bold" stroke="#000" stroke-width="0.3" fill="#000">510</text>
<text transform="translate(887.77,1473.20) scale(1.0148,1)" font-size="22.53" font-family="Liberation Sans, sans-serif" font-weight="bold" stroke="#000" stroke-width="0.3" fill="#000">Binding Energy (eV)</text>
<text transform="translate(669.00,1270.14) rotate(-90) scale(0.9462,1)" font-size="24.27" font-family="Liberation Sans, sans-serif" font-weight="bold" stroke="#000" stroke-width="0.3">Intensity (a.u.)</text>
<text transform="translate(698.88,1034.75) scale(1.1996,1)" font-size="35.40" font-family="Liberation Sans, sans-serif" font-weight="bold" stroke="#000" stroke-width="0.3" fill="#000">(f)</text>
<path d="M805.75,1333.83 L810.49,1333.66 L815.23,1333.32 L819.97,1332.69 L824.70,1331.57 L829.44,1329.68 L834.18,1326.58 L838.92,1321.73 L843.66,1314.44 L848.39,1303.95 L853.13,1289.53 L857.87,1270.58 L862.61,1246.87 L867.35,1218.67 L872.08,1186.93 L876.82,1153.35 L881.56,1120.28 L886.30,1090.50 L891.04,1066.89 L895.77,1051.99 L900.51,1047.52 L905.25,1054.19 L909.99,1071.44 L914.73,1097.65 L919.46,1130.30 L924.20,1166.51 L928.94,1203.37 L933.68,1238.39 L938.42,1269.73 L943.15,1296.30 L947.89,1317.75 L952.63,1334.26 L957.37,1346.44 L962.11,1355.06 L966.84,1360.93 L971.58,1364.79 L976.32,1367.25 L981.06,1368.78 L985.80,1369.71 L990.53,1370.26 L995.27,1370.59 L1000.01,1370.78 L1004.75,1370.88 L1009.49,1370.94 L1014.22,1370.97 L1018.96,1370.99 L1023.70,1371.00" fill="none" stroke="#ff0000" stroke-width="3.2" stroke-linejoin="round" stroke-linecap="round" />
<path d="M805.75,1334.00 L810.49,1334.00 L815.23,1334.01 L819.97,1334.02 L824.70,1334.03 L829.44,1334.06 L834.18,1334.11 L838.92,1334.19 L843.66,1334.33 L848.39,1334.55 L853.13,1334.87 L857.87,1335.34 L862.61,1336.00 L867.35,1336.90 L872.08,1338.07 L876.82,1339.54 L881.56,1341.31 L886.30,1343.38 L891.04,1345.71 L895.77,1348.23 L900.51,1350.85 L905.25,1353.46 L909.99,1355.93 L914.73,1358.13 L919.46,1359.91 L924.20,1361.11 L928.94,1361.60 L933.68,1361.26 L938.42,1360.02 L943.15,1357.94 L947.89,1355.20 L952.63,1352.14 L957.37,1349.21 L962.11,1346.93 L966.84,1345.72 L971.58,1345.87 L976.32,1347.38 L981.06,1350.05 L985.80,1353.48" fill="none" stroke="#ffff00" stroke-width="3.2" stroke-linejoin="round" stroke-linecap="round" />
<path d="M805.75,1334.00 L810.49,1334.00 L815.23,1334.01 L819.97,1334.02 L824.70,1334.03 L829.44,1334.06 L834.18,1334.11 L838.92,1334.19 L843.66,1334.33 L848.39,1334.55 L853.13,1334.87 L857.87,1335.34 L862.61,1336.00 L867.35,1336.90 L872.08,1338.07 L876.82,1339.54 L881.56,1341.31 L886.30,1343.39 L891.04,1345.72 L895.77,1348.25 L900.51,1350.89 L905.25,1353.56 L909.99,1356.14 L914.73,1358.56 L919.46,1360.75 L924.20,1362.66 L928.94,1364.26 L933.68,1365.57 L938.42,1366.62 L943.15,1367.43 L947.89,1368.07 L952.63,1368.57 L957.37,1368.98 L962.11,1369.33 L966.84,1369.64 L971.58,1369.91 L976.32,1370.16 L981.06,1370.37 L985.80,1370.55 L990.53,1370.69 L995.27,1370.79 L1000.01,1370.87 L1004.75,1370.93 L1009.49,1370.96 L1014.22,1370.98 L1018.96,1370.99 L1023.70,1371.00" fill="none" stroke="#000" stroke-width="2.7" stroke-linejoin="round" stroke-linecap="round" stroke-dasharray="0.01 5.4"/>
<path d="M696.78,1331.50 L701.52,1330.81 L706.25,1330.67 L710.99,1330.14 L715.73,1331.58 L720.47,1332.53 L725.21,1332.07 L729.94,1332.46 L734.68,1332.87 L739.42,1332.07 L744.16,1333.98 L748.90,1332.37 L753.63,1333.14 L758.37,1334.47 L763.11,1333.18 L767.85,1333.43 L772.59,1333.23 L777.32,1333.74 L782.06,1332.55 L786.80,1333.28 L791.54,1334.35 L796.28,1333.41 L801.01,1332.86 L805.75,1332.08 L810.49,1331.31 L815.23,1330.19 L819.97,1329.14 L824.70,1326.34 L829.44,1325.10 L834.18,1320.98 L838.92,1316.47 L843.66,1308.32 L848.39,1296.94 L853.13,1282.92 L857.87,1264.08 L862.61,1242.56 L867.35,1215.27 L872.08,1185.23 L876.82,1151.55 L881.56,1120.31 L886.30,1089.55 L891.04,1065.87 L895.77,1048.90 L900.51,1041.96 L905.25,1049.72 L909.99,1068.30 L914.73,1096.41 L919.46,1129.88 L924.20,1165.17 L928.94,1201.09 L933.68,1233.27 L938.42,1262.94 L943.15,1286.58 L947.89,1304.87 L952.63,1316.80 L957.37,1326.04 L962.11,1331.74 L966.84,1334.89 L971.58,1338.63 L976.32,1342.87 L981.06,1345.83 L985.80,1349.79 L990.53,1354.82 L995.27,1358.19 L1000.01,1361.09 L1004.75,1363.79 L1009.49,1365.45 L1014.22,1366.76 L1018.96,1367.77 L1023.70,1368.87 L1028.44,1369.82 L1033.18,1369.30 L1037.91,1369.79 L1042.65,1369.96 L1047.39,1369.64 L1052.13,1370.57 L1056.87,1371.02 L1061.60,1370.27 L1066.34,1371.20 L1071.08,1370.56 L1075.82,1371.47 L1080.56,1371.54 L1085.29,1370.76 L1090.03,1369.97 L1094.77,1370.81 L1099.51,1370.29 L1104.25,1370.34 L1108.98,1370.87 L1113.72,1371.68 L1118.46,1370.95 L1123.20,1370.89 L1127.94,1370.07 L1132.67,1370.70 L1137.41,1370.30 L1142.15,1371.26 L1146.89,1370.74 L1151.63,1370.98 L1156.36,1370.99 L1161.10,1370.91 L1165.84,1371.48 L1170.58,1371.24 L1175.32,1370.84 L1180.05,1371.08 L1184.79,1371.28 L1189.53,1371.69 L1194.27,1371.06 L1199.01,1371.72 L1203.74,1370.70 L1208.48,1370.88 L1213.22,1370.26 L1217.96,1371.41 L1222.70,1370.48 L1227.43,1370.48 L1232.17,1371.42 L1236.91,1370.73 L1241.65,1370.62 L1246.39,1371.48 L1251.12,1370.91 L1255.86,1371.46" fill="none" stroke="#000" stroke-width="3.2" stroke-linejoin="round" stroke-linecap="round" />
<path d="M696.78,1330.99 L701.52,1331.59 L706.25,1331.88 L710.99,1331.64 L715.73,1332.47 L720.47,1331.75 L725.21,1331.97 L729.94,1332.24 L734.68,1332.76 L739.42,1332.39 L744.16,1332.48 L748.90,1332.91 L753.63,1333.46 L758.37,1332.95 L763.11,1332.75 L767.85,1333.36 L772.59,1333.81 L777.32,1333.50 L782.06,1333.91 L786.80,1333.26 L791.54,1334.16 L796.28,1334.32 L801.01,1334.64 L805.75,1333.83 L810.49,1333.66 L815.23,1333.32 L819.97,1332.69 L824.70,1331.57 L829.44,1329.68 L834.18,1326.58 L838.92,1321.73 L843.66,1314.44 L848.39,1303.95 L853.13,1289.53 L857.87,1270.58 L862.61,1246.87 L867.35,1218.67 L872.08,1186.93 L876.82,1153.35 L881.56,1120.28 L886.30,1090.50 L891.04,1066.89 L895.77,1051.98 L900.51,1047.48 L905.25,1054.10 L909.99,1071.23 L914.73,1097.21 L919.46,1129.46 L924.20,1164.97 L928.94,1200.71 L933.68,1234.08 L938.42,1263.14 L943.15,1286.81 L947.89,1304.88 L952.63,1317.83 L957.37,1326.67 L962.11,1332.65 L966.84,1337.01 L971.58,1340.74 L976.32,1344.48 L981.06,1348.47 L985.80,1352.64 L990.53,1356.75 L995.27,1360.52 L1000.01,1363.70 L1004.75,1366.20 L1009.49,1368.03 L1014.22,1369.26 L1018.96,1370.04 L1023.70,1370.51 L1028.44,1370.88 L1033.18,1371.20 L1037.91,1370.55 L1042.65,1371.24 L1047.39,1370.33 L1052.13,1370.76 L1056.87,1371.44 L1061.60,1371.34 L1066.34,1370.26 L1071.08,1371.24 L1075.82,1370.83 L1080.56,1370.69 L1085.29,1371.08 L1090.03,1371.05 L1094.77,1371.56 L1099.51,1370.42 L1104.25,1370.83 L1108.98,1370.94 L1113.72,1370.26 L1118.46,1371.47 L1123.20,1371.70 L1127.94,1370.75 L1132.67,1371.15 L1137.41,1370.89 L1142.15,1371.11 L1146.89,1370.73 L1151.63,1371.33 L1156.36,1370.53 L1161.10,1371.55 L1165.84,1371.14 L1170.58,1371.97 L1175.32,1370.34 L1180.05,1370.96 L1184.79,1370.49 L1189.53,1370.94 L1194.27,1371.17 L1199.01,1370.63 L1203.74,1370.43 L1208.48,1370.31 L1213.22,1371.09 L1217.96,1371.51 L1222.70,1371.47 L1227.43,1371.01 L1232.17,1370.62 L1236.91,1370.85 L1241.65,1370.40 L1246.39,1370.37 L1251.12,1371.43 L1255.86,1370.89" fill="none" stroke="#0000ff" stroke-width="3.4" stroke-linejoin="round" stroke-linecap="round" />
<rect x="60.3" y="1484.0" width="568.10" height="421.00" fill="none" stroke="#000" stroke-width="2.2"/>
<line x1="117.11" y1="1905.00" x2="117.11" y2="1901.00" stroke="#000" stroke-width="2"/>
<line x1="173.92" y1="1905.00" x2="173.92" y2="1897.00" stroke="#000" stroke-width="2"/>
<line x1="230.73" y1="1905.00" x2="230.73" y2="1901.00" stroke="#000" stroke-width="2"/>
<line x1="287.54" y1="1905.00" x2="287.54" y2="1897.00" stroke="#000" stroke-width="2"/>
<line x1="344.35" y1="1905.00" x2="344.35" y2="1901.00" stroke="#000" stroke-width="2"/>
<line x1="401.16" y1="1905.00" x2="401.16" y2="1897.00" stroke="#000" stroke-width="2"/>
<line x1="457.97" y1="1905.00" x2="457.97" y2="1901.00" stroke="#000" stroke-width="2"/>
<line x1="514.78" y1="1905.00" x2="514.78" y2="1897.00" stroke="#000" stroke-width="2"/>
<line x1="571.59" y1="1905.00" x2="571.59" y2="1901.00" stroke="#000" stroke-width="2"/>
<text transform="translate(40.19,1930.00) scale(1.0000,1)" font-size="23.85" font-family="Liberation Sans, sans-serif" font-weight="bold" stroke="#000" stroke-width="0.3" fill="#000">536</text>
<text transform="translate(153.44,1930.00) scale(1.0000,1)" font-size="23.85" font-family="Liberation Sans, sans-serif" font-weight="bold" stroke="#000" stroke-width="0.3" fill="#000">534</text>
<text transform="translate(267.47,1930.00) scale(1.0000,1)" font-size="23.85" font-family="Liberation Sans, sans-serif" font-weight="bold" stroke="#000" stroke-width="0.3" fill="#000">532</text>
<text transform="translate(381.11,1930.00) scale(1.0000,1)" font-size="23.85" font-family="Liberation Sans, sans-serif" font-weight="bold" stroke="#000" stroke-width="0.3" fill="#000">530</text>
<text transform="translate(494.60,1930.00) scale(1.0000,1)" font-size="23.85" font-family="Liberation Sans, sans-serif" font-weight="bold" stroke="#000" stroke-width="0.3" fill="#000">528</text>
<text transform="translate(608.29,1930.00) scale(1.0000,1)" font-size="23.85" font-family="Liberation Sans, sans-serif" font-weight="bold" stroke="#000" stroke-width="0.3" fill="#000">526</text>
<text transform="translate(255.47,1962.20) scale(1.0148,1)" font-size="22.53" font-family="Liberation Sans, sans-serif" font-weight="bold" stroke="#000" stroke-width="0.3" fill="#000">Binding Energy (eV)</text>
<text transform="translate(36.70,1759.64) rotate(-90) scale(0.9350,1)" font-size="24.56" font-family="Liberation Sans, sans-serif" font-weight="bold" stroke="#000" stroke-width="0.3">Intensity (a.u.)</text>
<text transform="translate(66.76,1524.25) scale(1.1565,1)" font-size="35.40" font-family="Liberation Sans, sans-serif" font-weight="bold" stroke="#000" stroke-width="0.3" fill="#000">(g)</text>
<path d="M202.32,1818.80 L208.01,1818.80 L213.69,1818.81 L219.37,1818.81 L225.05,1818.82 L230.73,1818.84 L236.41,1818.85 L242.09,1818.88 L247.77,1818.91 L253.45,1818.95 L259.13,1819.00 L264.82,1819.06 L270.50,1819.12 L276.18,1819.19 L281.86,1819.23 L287.54,1819.22 L293.22,1819.11 L298.90,1818.84 L304.58,1818.32 L310.26,1817.41 L315.94,1816.00 L321.63,1813.93 L327.31,1811.11 L332.99,1807.47 L338.67,1803.05 L344.35,1798.01 L350.03,1792.65 L355.71,1787.40 L361.39,1782.75 L367.07,1779.23 L372.75,1777.30 L378.44,1777.26 L384.12,1779.24 L389.80,1783.13 L395.48,1788.61 L401.16,1795.24 L406.84,1802.47 L412.52,1809.80 L418.20,1816.79 L423.88,1823.10 L429.56,1828.55 L435.25,1833.06 L440.93,1836.68 L446.61,1839.47 L452.29,1841.57 L457.97,1843.11 L463.65,1844.22 L469.33,1844.99 L475.01,1845.52 L480.69,1845.88 L486.38,1846.11 L492.06,1846.27 L497.74,1846.36 L503.42,1846.42 L509.10,1846.46 L514.78,1846.48 L520.46,1846.49 L526.14,1846.49 L531.82,1846.50 L537.50,1846.50" fill="none" stroke="#ffff00" stroke-width="3.2" stroke-linejoin="round" stroke-linecap="round" />
<path d="M304.58,1819.92 L310.26,1819.96 L315.94,1819.83 L321.63,1819.42 L327.31,1818.52 L332.99,1816.87 L338.67,1814.07 L344.35,1809.63 L350.03,1802.94 L355.71,1793.35 L361.39,1780.21 L367.07,1763.02 L372.75,1741.55 L378.44,1716.00 L384.12,1687.11 L389.80,1656.21 L395.48,1625.22 L401.16,1596.46 L406.84,1572.38 L412.52,1555.26 L418.20,1546.87 L423.88,1548.14 L429.56,1559.06 L435.25,1578.66 L440.93,1605.15 L446.61,1636.21 L452.29,1669.36 L457.97,1702.25 L463.65,1732.94 L469.33,1760.09 L475.01,1782.95 L480.69,1801.32 L486.38,1815.45 L492.06,1825.88 L497.74,1833.26 L503.42,1838.29 L509.10,1841.58 L514.78,1843.65 L520.46,1844.90 L526.14,1845.64 L531.82,1846.05 L537.50,1846.27" fill="none" stroke="#ff0000" stroke-width="3.2" stroke-linejoin="round" stroke-linecap="round" />
<path d="M202.32,1818.35 L208.01,1818.11 L213.69,1817.78 L219.37,1817.31 L225.05,1816.67 L230.73,1815.80 L236.41,1814.66 L242.09,1813.21 L247.77,1811.38 L253.45,1809.14 L259.13,1806.47 L264.82,1803.37 L270.50,1799.86 L276.18,1795.99 L281.86,1791.86 L287.54,1787.61 L293.22,1783.37 L298.90,1779.35 L304.58,1775.72 L310.26,1772.69 L315.94,1770.41 L321.63,1769.03 L327.31,1768.65 L332.99,1769.31 L338.67,1770.98 L344.35,1773.61 L350.03,1777.08 L355.71,1781.24 L361.39,1785.92 L367.07,1790.94 L372.75,1796.12 L378.44,1801.31 L384.12,1806.38 L389.80,1811.25 L395.48,1815.83 L401.16,1820.08 L406.84,1823.98 L412.52,1827.53 L418.20,1830.72 L423.88,1833.55 L429.56,1836.04 L435.25,1838.20 L440.93,1840.03 L446.61,1841.56 L452.29,1842.81 L457.97,1843.81 L463.65,1844.59 L469.33,1845.18 L475.01,1845.61 L480.69,1845.91 L486.38,1846.13 L492.06,1846.27 L497.74,1846.36" fill="none" stroke="#00ff00" stroke-width="3.2" stroke-linejoin="round" stroke-linecap="round" />
<path d="M202.32,1818.80 L208.01,1818.80 L213.69,1818.81 L219.37,1818.81 L225.05,1818.82 L230.73,1818.84 L236.41,1818.85 L242.09,1818.88 L247.77,1818.91 L253.45,1818.95 L259.13,1819.01 L264.82,1819.08 L270.50,1819.17 L276.18,1819.27 L281.86,1819.40 L287.54,1819.55 L293.22,1819.72 L298.90,1819.92 L304.58,1820.14 L310.26,1820.39 L315.94,1820.66 L321.63,1820.95 L327.31,1821.26 L332.99,1821.60 L338.67,1821.98 L344.35,1822.39 L350.03,1822.84 L355.71,1823.35 L361.39,1823.93 L367.07,1824.59 L372.75,1825.34 L378.44,1826.20 L384.12,1827.18 L389.80,1828.29 L395.48,1829.53 L401.16,1830.89 L406.84,1832.34 L412.52,1833.87 L418.20,1835.44 L423.88,1837.00 L429.56,1838.51 L435.25,1839.93 L440.93,1841.23 L446.61,1842.37 L452.29,1843.35 L457.97,1844.16 L463.65,1844.81 L469.33,1845.31 L475.01,1845.69 L480.69,1845.96 L486.38,1846.16 L492.06,1846.29 L497.74,1846.37 L503.42,1846.42 L509.10,1846.46 L514.78,1846.48 L520.46,1846.49 L526.14,1846.49 L531.82,1846.50 L537.50,1846.50" fill="none" stroke="#000" stroke-width="2.7" stroke-linejoin="round" stroke-linecap="round" stroke-dasharray="0.01 5.4"/>
<path d="M65.98,1817.66 L71.66,1818.05 L77.34,1819.12 L83.02,1818.38 L88.70,1819.22 L94.39,1819.45 L100.07,1817.65 L105.75,1819.61 L111.43,1818.32 L117.11,1820.48 L122.79,1819.38 L128.47,1818.37 L134.15,1818.96 L139.83,1818.97 L145.51,1819.06 L151.20,1819.91 L156.88,1819.22 L162.56,1820.11 L168.24,1819.28 L173.92,1818.62 L179.60,1817.51 L185.28,1817.43 L190.96,1818.77 L196.64,1819.02 L202.32,1819.40 L208.01,1817.37 L213.69,1817.31 L219.37,1815.69 L225.05,1814.81 L230.73,1811.91 L236.41,1812.83 L242.09,1810.15 L247.77,1809.13 L253.45,1807.82 L259.13,1805.63 L264.82,1801.66 L270.50,1800.71 L276.18,1796.37 L281.86,1792.03 L287.54,1786.70 L293.22,1781.42 L298.90,1776.86 L304.58,1773.51 L310.26,1769.41 L315.94,1764.36 L321.63,1761.95 L327.31,1756.00 L332.99,1751.24 L338.67,1744.87 L344.35,1735.62 L350.03,1727.79 L355.71,1715.64 L361.39,1700.01 L367.07,1684.59 L372.75,1665.15 L378.44,1642.95 L384.12,1619.21 L389.80,1592.87 L395.48,1570.34 L401.16,1549.14 L406.84,1532.67 L412.52,1522.12 L418.20,1521.70 L423.88,1530.06 L429.56,1545.63 L435.25,1570.74 L440.93,1600.70 L446.61,1632.75 L452.29,1665.84 L457.97,1700.34 L463.65,1731.99 L469.33,1758.33 L475.01,1782.58 L480.69,1800.16 L486.38,1816.02 L492.06,1826.39 L497.74,1833.18 L503.42,1837.28 L509.10,1841.80 L514.78,1843.13 L520.46,1844.35 L526.14,1846.52 L531.82,1845.44 L537.50,1845.17 L543.18,1847.02 L548.87,1847.87 L554.55,1847.76 L560.23,1847.11 L565.91,1848.17 L571.59,1846.21 L577.27,1848.24 L582.95,1848.18 L588.63,1846.23 L594.31,1846.74 L600.00,1844.99 L605.68,1844.49 L611.36,1844.74 L617.04,1842.03 L622.72,1841.48" fill="none" stroke="#000" stroke-width="3.2" stroke-linejoin="round" stroke-linecap="round" />
<path d="M65.98,1819.26 L71.66,1818.94 L77.34,1819.78 L83.02,1820.76 L88.70,1819.00 L94.39,1819.82 L100.07,1820.31 L105.75,1818.36 L111.43,1818.15 L117.11,1816.39 L122.79,1819.25 L128.47,1819.88 L134.15,1819.26 L139.83,1820.93 L145.51,1820.36 L151.20,1819.64 L156.88,1818.78 L162.56,1817.93 L168.24,1818.91 L173.92,1819.29 L179.60,1818.69 L185.28,1818.41 L190.96,1818.26 L196.64,1819.24 L202.32,1818.35 L208.01,1818.11 L213.69,1817.78 L219.37,1817.31 L225.05,1816.67 L230.73,1815.80 L236.41,1814.66 L242.09,1813.21 L247.77,1811.38 L253.45,1809.14 L259.13,1806.46 L264.82,1803.35 L270.50,1799.81 L276.18,1795.90 L281.86,1791.68 L287.54,1787.25 L293.22,1782.71 L298.90,1778.16 L304.58,1773.68 L310.26,1769.28 L315.94,1764.93 L321.63,1760.49 L327.31,1755.76 L332.99,1750.44 L338.67,1744.15 L344.35,1736.48 L350.03,1726.99 L355.71,1715.28 L361.39,1701.02 L367.07,1684.02 L372.75,1664.29 L378.44,1642.17 L384.12,1618.37 L389.80,1594.00 L395.48,1570.60 L401.16,1550.00 L406.84,1534.15 L412.52,1524.85 L418.20,1523.50 L423.88,1530.79 L429.56,1546.63 L435.25,1570.07 L440.93,1599.40 L446.61,1632.51 L452.29,1667.05 L457.97,1700.85 L463.65,1732.13 L469.33,1759.63 L475.01,1782.69 L480.69,1801.18 L486.38,1815.38 L492.06,1825.84 L497.74,1833.25 L503.42,1838.28 L509.10,1841.57 L514.78,1843.64 L520.46,1844.90 L526.14,1845.63 L531.82,1846.05 L537.50,1846.27 L543.18,1844.71 L548.87,1846.16 L554.55,1846.58 L560.23,1847.22 L565.91,1847.23 L571.59,1846.30 L577.27,1845.94 L582.95,1845.36 L588.63,1847.70 L594.31,1847.03 L600.00,1846.25 L605.68,1844.61 L611.36,1843.19 L617.04,1844.16 L622.72,1841.33" fill="none" stroke="#0000ff" stroke-width="3.4" stroke-linejoin="round" stroke-linecap="round" />
<rect x="692.0" y="1484.0" width="568.60" height="423.00" fill="none" stroke="#000" stroke-width="2.2"/>
<line x1="739.38" y1="1907.00" x2="739.38" y2="1903.00" stroke="#000" stroke-width="2"/>
<line x1="786.77" y1="1907.00" x2="786.77" y2="1899.00" stroke="#000" stroke-width="2"/>
<line x1="834.15" y1="1907.00" x2="834.15" y2="1903.00" stroke="#000" stroke-width="2"/>
<line x1="881.53" y1="1907.00" x2="881.53" y2="1899.00" stroke="#000" stroke-width="2"/>
<line x1="928.92" y1="1907.00" x2="928.92" y2="1903.00" stroke="#000" stroke-width="2"/>
<line x1="976.30" y1="1907.00" x2="976.30" y2="1899.00" stroke="#000" stroke-width="2"/>
<line x1="1023.68" y1="1907.00" x2="1023.68" y2="1903.00" stroke="#000" stroke-width="2"/>
<line x1="1071.07" y1="1907.00" x2="1071.07" y2="1899.00" stroke="#000" stroke-width="2"/>
<line x1="1118.45" y1="1907.00" x2="1118.45" y2="1903.00" stroke="#000" stroke-width="2"/>
<line x1="1165.83" y1="1907.00" x2="1165.83" y2="1899.00" stroke="#000" stroke-width="2"/>
<line x1="1213.22" y1="1907.00" x2="1213.22" y2="1903.00" stroke="#000" stroke-width="2"/>
<text transform="translate(671.93,1932.00) scale(1.0000,1)" font-size="23.85" font-family="Liberation Sans, sans-serif" font-weight="bold" stroke="#000" stroke-width="0.3" fill="#000">522</text>
<text transform="translate(766.71,1932.00) scale(1.0000,1)" font-size="23.85" font-family="Liberation Sans, sans-serif" font-weight="bold" stroke="#000" stroke-width="0.3" fill="#000">520</text>
<text transform="translate(861.36,1932.00) scale(1.0000,1)" font-size="23.85" font-family="Liberation Sans, sans-serif" font-weight="bold" stroke="#000" stroke-width="0.3" fill="#000">518</text>
<text transform="translate(956.19,1932.00) scale(1.0000,1)" font-size="23.85" font-family="Liberation Sans, sans-serif" font-weight="bold" stroke="#000" stroke-width="0.3" fill="#000">516</text>
<text transform="translate(1050.58,1932.00) scale(1.0000,1)" font-size="23.85" font-family="Liberation Sans, sans-serif" font-weight="bold" stroke="#000" stroke-width="0.3" fill="#000">514</text>
<text transform="translate(1145.77,1932.00) scale(1.0000,1)" font-size="23.85" font-family="Liberation Sans, sans-serif" font-weight="bold" stroke="#000" stroke-width="0.3" fill="#000">512</text>
<text transform="translate(1240.55,1932.00) scale(1.0000,1)" font-size="23.85" font-family="Liberation Sans, sans-serif" font-weight="bold" stroke="#000" stroke-width="0.3" fill="#000">510</text>
<text transform="translate(885.46,1964.20) scale(1.0251,1)" font-size="22.53" font-family="Liberation Sans, sans-serif" font-weight="bold" stroke="#000" stroke-width="0.3" fill="#000">Binding Energy (eV)</text>
<text transform="translate(669.00,1759.64) rotate(-90) scale(0.9462,1)" font-size="24.27" font-family="Liberation Sans, sans-serif" font-weight="bold" stroke="#000" stroke-width="0.3">Intensity (a.u.)</text>
<text transform="translate(699.05,1524.25) scale(1.1037,1)" font-size="35.40" font-family="Liberation Sans, sans-serif" font-weight="bold" stroke="#000" stroke-width="0.3" fill="#000">(h)</text>
<path d="M838.92,1814.90 L843.66,1814.63 L848.39,1814.17 L853.13,1813.37 L857.87,1812.06 L862.61,1809.98 L867.35,1806.77 L872.08,1802.00 L876.82,1795.15 L881.56,1785.68 L886.30,1773.04 L891.04,1756.82 L895.77,1736.80 L900.51,1713.12 L905.25,1686.31 L909.99,1657.42 L914.73,1627.95 L919.46,1599.77 L924.20,1574.98 L928.94,1555.59 L933.68,1543.38 L938.42,1539.53 L943.15,1544.54 L947.89,1558.07 L952.63,1579.08 L957.37,1605.88 L962.11,1636.44 L966.84,1668.63 L971.58,1700.46 L976.32,1730.29 L981.06,1756.94 L985.80,1779.73 L990.53,1798.46 L995.27,1813.26 L1000.01,1824.55 L1004.75,1832.87 L1009.49,1838.81 L1014.22,1842.91 L1018.96,1845.68 L1023.70,1847.49 L1028.44,1848.65 L1033.18,1849.38 L1037.91,1849.83 L1042.65,1850.11 L1047.39,1850.27 L1052.13,1850.37 L1056.87,1850.43 L1061.60,1850.46 L1066.34,1850.48 L1071.08,1850.49 L1075.82,1850.50 L1080.56,1850.50" fill="none" stroke="#ff0000" stroke-width="3.2" stroke-linejoin="round" stroke-linecap="round" />
<path d="M838.92,1815.20 L843.66,1815.20 L848.39,1815.21 L853.13,1815.22 L857.87,1815.24 L862.61,1815.27 L867.35,1815.32 L872.08,1815.40 L876.82,1815.53 L881.56,1815.72 L886.30,1815.99 L891.04,1816.37 L895.77,1816.90 L900.51,1817.60 L905.25,1818.49 L909.99,1819.60 L914.73,1820.94 L919.46,1822.50 L924.20,1824.25 L928.94,1826.15 L933.68,1828.11 L938.42,1830.03 L943.15,1831.79 L947.89,1833.24 L952.63,1834.23 L957.37,1834.63 L962.11,1834.32 L966.84,1833.25 L971.58,1831.42 L976.32,1828.94 L981.06,1826.03 L985.80,1822.98 L990.53,1820.13 L995.27,1817.84 L1000.01,1816.44 L1004.75,1816.15 L1009.49,1817.05 L1014.22,1819.10 L1018.96,1822.10 L1023.70,1825.76 L1028.44,1829.75" fill="none" stroke="#ffff00" stroke-width="3.2" stroke-linejoin="round" stroke-linecap="round" />
<path d="M838.92,1815.20 L843.66,1815.20 L848.39,1815.21 L853.13,1815.22 L857.87,1815.24 L862.61,1815.27 L867.35,1815.32 L872.08,1815.40 L876.82,1815.53 L881.56,1815.72 L886.30,1815.99 L891.04,1816.37 L895.77,1816.90 L900.51,1817.60 L905.25,1818.50 L909.99,1819.61 L914.73,1820.97 L919.46,1822.56 L924.20,1824.37 L928.94,1826.36 L933.68,1828.50 L938.42,1830.73 L943.15,1832.97 L947.89,1835.17 L952.63,1837.26 L957.37,1839.19 L962.11,1840.93 L966.84,1842.46 L971.58,1843.77 L976.32,1844.88 L981.06,1845.81 L985.80,1846.58 L990.53,1847.22 L995.27,1847.76 L1000.01,1848.23 L1004.75,1848.63 L1009.49,1848.98 L1014.22,1849.28 L1018.96,1849.54 L1023.70,1849.77 L1028.44,1849.95 L1033.18,1850.10 L1037.91,1850.22 L1042.65,1850.31 L1047.39,1850.37 L1052.13,1850.42 L1056.87,1850.45 L1061.60,1850.47 L1066.34,1850.48 L1071.08,1850.49 L1075.82,1850.50 L1080.56,1850.50" fill="none" stroke="#000" stroke-width="2.7" stroke-linejoin="round" stroke-linecap="round" stroke-dasharray="0.01 5.4"/>
<path d="M696.78,1800.49 L701.52,1801.88 L706.25,1802.87 L710.99,1803.64 L715.73,1804.82 L720.47,1804.50 L725.21,1805.74 L729.94,1806.07 L734.68,1806.32 L739.42,1807.46 L744.16,1808.66 L748.90,1808.92 L753.63,1810.06 L758.37,1811.50 L763.11,1812.00 L767.85,1812.78 L772.59,1813.45 L777.32,1813.97 L782.06,1813.57 L786.80,1815.00 L791.54,1813.75 L796.28,1814.61 L801.01,1814.45 L805.75,1814.57 L810.49,1814.62 L815.23,1814.32 L819.97,1814.93 L824.70,1813.82 L829.44,1814.81 L834.18,1813.49 L838.92,1815.46 L843.66,1814.31 L848.39,1814.20 L853.13,1813.81 L857.87,1810.40 L862.61,1808.83 L867.35,1805.55 L872.08,1800.38 L876.82,1793.25 L881.56,1783.06 L886.30,1770.31 L891.04,1754.11 L895.77,1734.62 L900.51,1711.39 L905.25,1685.60 L909.99,1656.74 L914.73,1627.84 L919.46,1600.31 L924.20,1575.35 L928.94,1555.16 L933.68,1542.92 L938.42,1539.20 L943.15,1543.03 L947.89,1555.23 L952.63,1575.55 L957.37,1601.59 L962.11,1629.73 L966.84,1659.24 L971.58,1688.48 L976.32,1713.83 L981.06,1738.30 L985.80,1756.15 L990.53,1771.21 L995.27,1784.36 L1000.01,1792.23 L1004.75,1800.15 L1009.49,1806.84 L1014.22,1812.25 L1018.96,1818.06 L1023.70,1823.77 L1028.44,1828.54 L1033.18,1833.01 L1037.91,1837.60 L1042.65,1841.52 L1047.39,1844.19 L1052.13,1844.56 L1056.87,1847.94 L1061.60,1848.81 L1066.34,1849.43 L1071.08,1849.25 L1075.82,1849.84 L1080.56,1850.16 L1085.29,1849.68 L1090.03,1851.05 L1094.77,1850.91 L1099.51,1850.48 L1104.25,1850.02 L1108.98,1851.17 L1113.72,1850.82 L1118.46,1851.03 L1123.20,1850.29 L1127.94,1851.70 L1132.67,1850.43 L1137.41,1851.48 L1142.15,1849.50 L1146.89,1850.65 L1151.63,1850.54 L1156.36,1849.24 L1161.10,1850.18 L1165.84,1849.89 L1170.58,1849.80 L1175.32,1850.12 L1180.05,1849.91 L1184.79,1850.66 L1189.53,1850.73 L1194.27,1850.63 L1199.01,1850.09 L1203.74,1850.26 L1208.48,1851.34 L1213.22,1850.33 L1217.96,1850.49 L1222.70,1850.21 L1227.43,1850.76 L1232.17,1850.94 L1236.91,1850.90 L1241.65,1850.71 L1246.39,1850.86 L1251.12,1850.39 L1255.86,1850.81" fill="none" stroke="#000" stroke-width="3.2" stroke-linejoin="round" stroke-linecap="round" />
<path d="M696.78,1800.39 L701.52,1801.61 L706.25,1802.69 L710.99,1802.72 L715.73,1804.22 L720.47,1804.82 L725.21,1804.98 L729.94,1805.57 L734.68,1806.37 L739.42,1807.40 L744.16,1808.72 L748.90,1809.47 L753.63,1810.65 L758.37,1811.84 L763.11,1811.53 L767.85,1811.68 L772.59,1812.68 L777.32,1813.25 L782.06,1814.22 L786.80,1814.28 L791.54,1815.01 L796.28,1813.90 L801.01,1814.40 L805.75,1814.40 L810.49,1814.44 L815.23,1814.26 L819.97,1815.33 L824.70,1814.39 L829.44,1814.44 L834.18,1814.62 L838.92,1814.90 L843.66,1814.63 L848.39,1814.17 L853.13,1813.37 L857.87,1812.06 L862.61,1809.98 L867.35,1806.77 L872.08,1802.00 L876.82,1795.15 L881.56,1785.68 L886.30,1773.04 L891.04,1756.82 L895.77,1736.80 L900.51,1713.12 L905.25,1686.31 L909.99,1657.41 L914.73,1627.92 L919.46,1599.72 L924.20,1574.86 L928.94,1555.37 L933.68,1542.99 L938.42,1538.83 L943.15,1543.35 L947.89,1556.14 L952.63,1576.05 L957.37,1601.32 L962.11,1629.84 L966.84,1659.42 L971.58,1688.11 L976.32,1714.35 L981.06,1737.17 L985.80,1756.13 L990.53,1771.37 L995.27,1783.34 L1000.01,1792.77 L1004.75,1800.39 L1009.49,1806.89 L1014.22,1812.73 L1018.96,1818.23 L1023.70,1823.48 L1028.44,1828.45 L1033.18,1833.03 L1037.91,1837.10 L1042.65,1840.57 L1047.39,1843.40 L1052.13,1845.61 L1056.87,1847.26 L1061.60,1848.43 L1066.34,1849.22 L1071.08,1849.75 L1075.82,1850.07 L1080.56,1850.27 L1085.29,1850.46 L1090.03,1851.15 L1094.77,1849.99 L1099.51,1850.41 L1104.25,1850.29 L1108.98,1850.46 L1113.72,1850.86 L1118.46,1850.26 L1123.20,1849.71 L1127.94,1850.53 L1132.67,1850.08 L1137.41,1850.74 L1142.15,1850.59 L1146.89,1851.34 L1151.63,1850.71 L1156.36,1850.17 L1161.10,1850.65 L1165.84,1850.93 L1170.58,1850.53 L1175.32,1850.49 L1180.05,1850.39 L1184.79,1850.33 L1189.53,1850.13 L1194.27,1850.98 L1199.01,1850.66 L1203.74,1849.93 L1208.48,1850.93 L1213.22,1850.51 L1217.96,1850.59 L1222.70,1850.56 L1227.43,1850.98 L1232.17,1849.61 L1236.91,1850.49 L1241.65,1850.72 L1246.39,1850.45 L1251.12,1849.84 L1255.86,1849.99" fill="none" stroke="#0000ff" stroke-width="3.4" stroke-linejoin="round" stroke-linecap="round" />
<text transform="translate(467.64,577.10) scale(0.9528,1)" font-size="24.42" font-family="Liberation Sans, sans-serif" font-weight="bold" stroke="#000" stroke-width="0.3" fill="#000">V</text>
<text transform="translate(482.85,583.90) scale(1.0008,1)" font-size="24.49" font-family="Liberation Sans, sans-serif" font-weight="bold" stroke="#000" stroke-width="0.3" fill="#000">2</text>
<text transform="translate(496.45,577.16) scale(0.9428,1)" font-size="24.58" font-family="Liberation Sans, sans-serif" font-weight="bold" stroke="#000" stroke-width="0.3" fill="#000">O</text>
<text transform="translate(515.34,583.96) scale(0.8848,1)" font-size="24.08" font-family="Liberation Sans, sans-serif" font-weight="bold" stroke="#000" stroke-width="0.3" fill="#000">5</text>
<line x1="466.90" y1="585.00" x2="422.15" y2="629.31" stroke="#000" stroke-width="2.1"/>
<path d="M415.90,635.50 L421.11,625.41 L426.04,630.39 Z" fill="#000" stroke="#000" stroke-width="1" stroke-linejoin="round"/>
<text transform="translate(262.24,736.40) scale(0.9471,1)" font-size="24.56" font-family="Liberation Sans, sans-serif" font-weight="bold" stroke="#000" stroke-width="0.3" fill="#000">V</text>
<text transform="translate(278.02,736.46) scale(0.9721,1)" font-size="24.58" font-family="Liberation Sans, sans-serif" font-weight="bold" stroke="#000" stroke-width="0.3" fill="#000">O</text>
<text transform="translate(296.36,743.20) scale(0.9923,1)" font-size="24.49" font-family="Liberation Sans, sans-serif" font-weight="bold" stroke="#000" stroke-width="0.3" fill="#000">2</text>
<line x1="310.00" y1="752.30" x2="364.87" y2="833.31" stroke="#000" stroke-width="2.1"/>
<path d="M369.80,840.60 L360.85,833.62 L366.64,829.70 Z" fill="#000" stroke="#000" stroke-width="1" stroke-linejoin="round"/>
<text transform="translate(67.92,799.80) scale(0.9369,1)" font-size="24.71" font-family="Liberation Sans, sans-serif" font-weight="bold" stroke="#000" stroke-width="0.3" fill="#000">Adsorbed oxygen</text>
<line x1="246.80" y1="810.00" x2="281.98" y2="845.18" stroke="#000" stroke-width="2.1"/>
<path d="M288.20,851.40 L278.09,846.24 L283.04,841.29 Z" fill="#000" stroke="#000" stroke-width="1" stroke-linejoin="round"/>
<text transform="translate(807.04,659.30) scale(0.9590,1)" font-size="24.42" font-family="Liberation Sans, sans-serif" font-weight="bold" stroke="#000" stroke-width="0.3" fill="#000">V</text>
<text transform="translate(822.95,651.03) scale(1.0401,1)" font-size="17.20" font-family="Liberation Sans, sans-serif" font-weight="bold" stroke="#000" stroke-width="0.3" fill="#000">5</text>
<text transform="translate(833.77,651.67) scale(1.0744,1)" font-size="16.15" font-family="Liberation Sans, sans-serif" font-weight="bold" stroke="#000" stroke-width="0.3" stroke-width="0" fill="#000">+</text>
<line x1="838.40" y1="662.70" x2="894.13" y2="708.98" stroke="#000" stroke-width="2.1"/>
<path d="M900.90,714.60 L890.36,710.39 L894.83,705.01 Z" fill="#000" stroke="#000" stroke-width="1" stroke-linejoin="round"/>
<text transform="translate(1022.74,810.40) scale(0.9590,1)" font-size="24.42" font-family="Liberation Sans, sans-serif" font-weight="bold" stroke="#000" stroke-width="0.3" fill="#000">V</text>
<text transform="translate(1038.95,802.30) scale(0.9526,1)" font-size="17.44" font-family="Liberation Sans, sans-serif" font-weight="bold" stroke="#000" stroke-width="0.3" fill="#000">4</text>
<text transform="translate(1049.47,802.77) scale(1.0744,1)" font-size="16.15" font-family="Liberation Sans, sans-serif" font-weight="bold" stroke="#000" stroke-width="0.3" stroke-width="0" fill="#000">+</text>
<line x1="1022.30" y1="820.30" x2="981.97" y2="865.34" stroke="#000" stroke-width="2.1"/>
<path d="M976.10,871.90 L980.70,861.52 L985.91,866.19 Z" fill="#000" stroke="#000" stroke-width="1" stroke-linejoin="round"/>
<text transform="translate(468.24,1086.00) scale(0.9528,1)" font-size="24.42" font-family="Liberation Sans, sans-serif" font-weight="bold" stroke="#000" stroke-width="0.3" fill="#000">V</text>
<text transform="translate(483.45,1092.80) scale(1.0008,1)" font-size="24.49" font-family="Liberation Sans, sans-serif" font-weight="bold" stroke="#000" stroke-width="0.3" fill="#000">2</text>
<text transform="translate(497.05,1086.06) scale(0.9428,1)" font-size="24.58" font-family="Liberation Sans, sans-serif" font-weight="bold" stroke="#000" stroke-width="0.3" fill="#000">O</text>
<text transform="translate(515.94,1092.86) scale(0.8848,1)" font-size="24.08" font-family="Liberation Sans, sans-serif" font-weight="bold" stroke="#000" stroke-width="0.3" fill="#000">5</text>
<line x1="465.00" y1="1092.90" x2="419.46" y2="1136.42" stroke="#000" stroke-width="2.1"/>
<path d="M413.10,1142.50 L418.49,1132.51 L423.33,1137.57 Z" fill="#000" stroke="#000" stroke-width="1" stroke-linejoin="round"/>
<text transform="translate(253.84,1232.80) scale(0.9471,1)" font-size="24.56" font-family="Liberation Sans, sans-serif" font-weight="bold" stroke="#000" stroke-width="0.3" fill="#000">V</text>
<text transform="translate(269.62,1232.86) scale(0.9721,1)" font-size="24.58" font-family="Liberation Sans, sans-serif" font-weight="bold" stroke="#000" stroke-width="0.3" fill="#000">O</text>
<text transform="translate(287.96,1239.60) scale(0.9923,1)" font-size="24.49" font-family="Liberation Sans, sans-serif" font-weight="bold" stroke="#000" stroke-width="0.3" fill="#000">2</text>
<line x1="305.20" y1="1247.10" x2="379.14" y2="1337.68" stroke="#000" stroke-width="2.1"/>
<path d="M384.70,1344.50 L375.16,1338.35 L380.58,1333.92 Z" fill="#000" stroke="#000" stroke-width="1" stroke-linejoin="round"/>
<text transform="translate(68.23,1285.00) scale(0.9226,1)" font-size="25.00" font-family="Liberation Sans, sans-serif" font-weight="bold" stroke="#000" stroke-width="0.3" fill="#000">Adsorbed oxygen</text>
<line x1="252.40" y1="1295.30" x2="283.60" y2="1333.11" stroke="#000" stroke-width="2.1"/>
<path d="M289.20,1339.90 L279.63,1333.80 L285.03,1329.34 Z" fill="#000" stroke="#000" stroke-width="1" stroke-linejoin="round"/>
<text transform="translate(805.14,1159.60) scale(0.9590,1)" font-size="24.42" font-family="Liberation Sans, sans-serif" font-weight="bold" stroke="#000" stroke-width="0.3" fill="#000">V</text>
<text transform="translate(821.05,1151.33) scale(1.0401,1)" font-size="17.20" font-family="Liberation Sans, sans-serif" font-weight="bold" stroke="#000" stroke-width="0.3" fill="#000">5</text>
<text transform="translate(831.87,1151.97) scale(1.0744,1)" font-size="16.15" font-family="Liberation Sans, sans-serif" font-weight="bold" stroke="#000" stroke-width="0.3" stroke-width="0" fill="#000">+</text>
<line x1="836.50" y1="1163.60" x2="891.73" y2="1209.38" stroke="#000" stroke-width="2.1"/>
<path d="M898.50,1215.00 L887.95,1210.80 L892.42,1205.41 Z" fill="#000" stroke="#000" stroke-width="1" stroke-linejoin="round"/>
<text transform="translate(1021.94,1300.20) scale(0.9590,1)" font-size="24.42" font-family="Liberation Sans, sans-serif" font-weight="bold" stroke="#000" stroke-width="0.3" fill="#000">V</text>
<text transform="translate(1038.15,1292.10) scale(0.9526,1)" font-size="17.44" font-family="Liberation Sans, sans-serif" font-weight="bold" stroke="#000" stroke-width="0.3" fill="#000">4</text>
<text transform="translate(1048.67,1292.57) scale(1.0744,1)" font-size="16.15" font-family="Liberation Sans, sans-serif" font-weight="bold" stroke="#000" stroke-width="0.3" stroke-width="0" fill="#000">+</text>
<line x1="1020.20" y1="1311.40" x2="981.11" y2="1354.48" stroke="#000" stroke-width="2.1"/>
<path d="M975.20,1361.00 L979.86,1350.65 L985.05,1355.35 Z" fill="#000" stroke="#000" stroke-width="1" stroke-linejoin="round"/>
<text transform="translate(472.64,1555.50) scale(0.9528,1)" font-size="24.42" font-family="Liberation Sans, sans-serif" font-weight="bold" stroke="#000" stroke-width="0.3" fill="#000">V</text>
<text transform="translate(487.85,1562.30) scale(1.0008,1)" font-size="24.49" font-family="Liberation Sans, sans-serif" font-weight="bold" stroke="#000" stroke-width="0.3" fill="#000">2</text>
<text transform="translate(501.45,1555.56) scale(0.9428,1)" font-size="24.58" font-family="Liberation Sans, sans-serif" font-weight="bold" stroke="#000" stroke-width="0.3" fill="#000">O</text>
<text transform="translate(520.34,1562.36) scale(0.8848,1)" font-size="24.08" font-family="Liberation Sans, sans-serif" font-weight="bold" stroke="#000" stroke-width="0.3" fill="#000">5</text>
<line x1="470.90" y1="1563.00" x2="426.72" y2="1607.18" stroke="#000" stroke-width="2.1"/>
<path d="M420.50,1613.40 L425.66,1603.29 L430.61,1608.24 Z" fill="#000" stroke="#000" stroke-width="1" stroke-linejoin="round"/>
<text transform="translate(275.74,1703.10) scale(0.9471,1)" font-size="24.56" font-family="Liberation Sans, sans-serif" font-weight="bold" stroke="#000" stroke-width="0.3" fill="#000">V</text>
<text transform="translate(291.52,1703.16) scale(0.9721,1)" font-size="24.58" font-family="Liberation Sans, sans-serif" font-weight="bold" stroke="#000" stroke-width="0.3" fill="#000">O</text>
<text transform="translate(309.86,1709.90) scale(0.9923,1)" font-size="24.49" font-family="Liberation Sans, sans-serif" font-weight="bold" stroke="#000" stroke-width="0.3" fill="#000">2</text>
<line x1="325.20" y1="1716.10" x2="375.26" y2="1783.73" stroke="#000" stroke-width="2.1"/>
<path d="M380.50,1790.80 L371.26,1784.20 L376.89,1780.04 Z" fill="#000" stroke="#000" stroke-width="1" stroke-linejoin="round"/>
<text transform="translate(81.82,1757.20) scale(0.9554,1)" font-size="24.42" font-family="Liberation Sans, sans-serif" font-weight="bold" stroke="#000" stroke-width="0.3" fill="#000">Adsorbed oxygen</text>
<line x1="259.90" y1="1766.50" x2="294.78" y2="1801.38" stroke="#000" stroke-width="2.1"/>
<path d="M301.00,1807.60 L290.89,1802.44 L295.84,1797.49 Z" fill="#000" stroke="#000" stroke-width="1" stroke-linejoin="round"/>
<text transform="translate(843.24,1652.40) scale(0.9590,1)" font-size="24.42" font-family="Liberation Sans, sans-serif" font-weight="bold" stroke="#000" stroke-width="0.3" fill="#000">V</text>
<text transform="translate(859.15,1644.13) scale(1.0401,1)" font-size="17.20" font-family="Liberation Sans, sans-serif" font-weight="bold" stroke="#000" stroke-width="0.3" fill="#000">5</text>
<text transform="translate(869.97,1644.77) scale(1.0744,1)" font-size="16.15" font-family="Liberation Sans, sans-serif" font-weight="bold" stroke="#000" stroke-width="0.3" stroke-width="0" fill="#000">+</text>
<line x1="874.20" y1="1656.80" x2="929.76" y2="1701.76" stroke="#000" stroke-width="2.1"/>
<path d="M936.60,1707.30 L926.00,1703.23 L930.41,1697.79 Z" fill="#000" stroke="#000" stroke-width="1" stroke-linejoin="round"/>
<text transform="translate(1060.74,1773.90) scale(0.9590,1)" font-size="24.42" font-family="Liberation Sans, sans-serif" font-weight="bold" stroke="#000" stroke-width="0.3" fill="#000">V</text>
<text transform="translate(1076.95,1765.80) scale(0.9526,1)" font-size="17.44" font-family="Liberation Sans, sans-serif" font-weight="bold" stroke="#000" stroke-width="0.3" fill="#000">4</text>
<text transform="translate(1087.47,1766.27) scale(1.0744,1)" font-size="16.15" font-family="Liberation Sans, sans-serif" font-weight="bold" stroke="#000" stroke-width="0.3" stroke-width="0" fill="#000">+</text>
<line x1="1059.20" y1="1783.00" x2="1019.07" y2="1829.16" stroke="#000" stroke-width="2.1"/>
<path d="M1013.30,1835.80 L1017.74,1825.35 L1023.03,1829.95 Z" fill="#000" stroke="#000" stroke-width="1" stroke-linejoin="round"/>
</svg>
</body></html>
